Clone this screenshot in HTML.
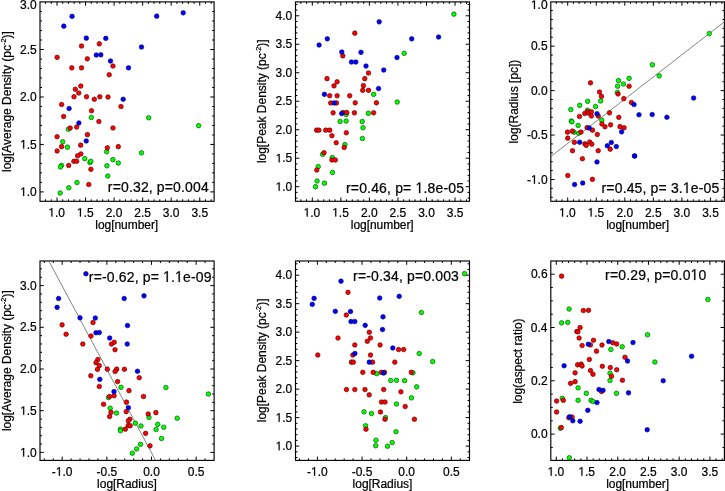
<!DOCTYPE html>
<html><head><meta charset="utf-8"><style>
html,body{margin:0;padding:0;background:#fff;}
svg{display:block;will-change:transform;}
text{font-family:"Liberation Sans", sans-serif;fill:#000;stroke:#000;stroke-width:0.22px;}
.g1{fill:#000;stroke:#000;stroke-width:0.22px;vector-effect:non-scaling-stroke;}
</style></head><body>
<svg width="725" height="491" viewBox="0 0 725 491">
<rect width="725" height="491" fill="#fff"/>
<line x1="45.58" y1="201.30" x2="45.58" y2="199.30" stroke="#000" stroke-width="1.0"/>
<line x1="45.58" y1="1.90" x2="45.58" y2="3.90" stroke="#000" stroke-width="1.0"/>
<line x1="51.29" y1="201.30" x2="51.29" y2="199.30" stroke="#000" stroke-width="1.0"/>
<line x1="51.29" y1="1.90" x2="51.29" y2="3.90" stroke="#000" stroke-width="1.0"/>
<line x1="57.00" y1="201.30" x2="57.00" y2="197.50" stroke="#000" stroke-width="1.0"/>
<line x1="57.00" y1="1.90" x2="57.00" y2="5.70" stroke="#000" stroke-width="1.0"/>
<line x1="62.71" y1="201.30" x2="62.71" y2="199.30" stroke="#000" stroke-width="1.0"/>
<line x1="62.71" y1="1.90" x2="62.71" y2="3.90" stroke="#000" stroke-width="1.0"/>
<line x1="68.42" y1="201.30" x2="68.42" y2="199.30" stroke="#000" stroke-width="1.0"/>
<line x1="68.42" y1="1.90" x2="68.42" y2="3.90" stroke="#000" stroke-width="1.0"/>
<line x1="74.13" y1="201.30" x2="74.13" y2="199.30" stroke="#000" stroke-width="1.0"/>
<line x1="74.13" y1="1.90" x2="74.13" y2="3.90" stroke="#000" stroke-width="1.0"/>
<line x1="79.84" y1="201.30" x2="79.84" y2="199.30" stroke="#000" stroke-width="1.0"/>
<line x1="79.84" y1="1.90" x2="79.84" y2="3.90" stroke="#000" stroke-width="1.0"/>
<line x1="85.55" y1="201.30" x2="85.55" y2="197.50" stroke="#000" stroke-width="1.0"/>
<line x1="85.55" y1="1.90" x2="85.55" y2="5.70" stroke="#000" stroke-width="1.0"/>
<line x1="91.26" y1="201.30" x2="91.26" y2="199.30" stroke="#000" stroke-width="1.0"/>
<line x1="91.26" y1="1.90" x2="91.26" y2="3.90" stroke="#000" stroke-width="1.0"/>
<line x1="96.97" y1="201.30" x2="96.97" y2="199.30" stroke="#000" stroke-width="1.0"/>
<line x1="96.97" y1="1.90" x2="96.97" y2="3.90" stroke="#000" stroke-width="1.0"/>
<line x1="102.68" y1="201.30" x2="102.68" y2="199.30" stroke="#000" stroke-width="1.0"/>
<line x1="102.68" y1="1.90" x2="102.68" y2="3.90" stroke="#000" stroke-width="1.0"/>
<line x1="108.39" y1="201.30" x2="108.39" y2="199.30" stroke="#000" stroke-width="1.0"/>
<line x1="108.39" y1="1.90" x2="108.39" y2="3.90" stroke="#000" stroke-width="1.0"/>
<line x1="114.10" y1="201.30" x2="114.10" y2="197.50" stroke="#000" stroke-width="1.0"/>
<line x1="114.10" y1="1.90" x2="114.10" y2="5.70" stroke="#000" stroke-width="1.0"/>
<line x1="119.81" y1="201.30" x2="119.81" y2="199.30" stroke="#000" stroke-width="1.0"/>
<line x1="119.81" y1="1.90" x2="119.81" y2="3.90" stroke="#000" stroke-width="1.0"/>
<line x1="125.52" y1="201.30" x2="125.52" y2="199.30" stroke="#000" stroke-width="1.0"/>
<line x1="125.52" y1="1.90" x2="125.52" y2="3.90" stroke="#000" stroke-width="1.0"/>
<line x1="131.23" y1="201.30" x2="131.23" y2="199.30" stroke="#000" stroke-width="1.0"/>
<line x1="131.23" y1="1.90" x2="131.23" y2="3.90" stroke="#000" stroke-width="1.0"/>
<line x1="136.94" y1="201.30" x2="136.94" y2="199.30" stroke="#000" stroke-width="1.0"/>
<line x1="136.94" y1="1.90" x2="136.94" y2="3.90" stroke="#000" stroke-width="1.0"/>
<line x1="142.65" y1="201.30" x2="142.65" y2="197.50" stroke="#000" stroke-width="1.0"/>
<line x1="142.65" y1="1.90" x2="142.65" y2="5.70" stroke="#000" stroke-width="1.0"/>
<line x1="148.36" y1="201.30" x2="148.36" y2="199.30" stroke="#000" stroke-width="1.0"/>
<line x1="148.36" y1="1.90" x2="148.36" y2="3.90" stroke="#000" stroke-width="1.0"/>
<line x1="154.07" y1="201.30" x2="154.07" y2="199.30" stroke="#000" stroke-width="1.0"/>
<line x1="154.07" y1="1.90" x2="154.07" y2="3.90" stroke="#000" stroke-width="1.0"/>
<line x1="159.78" y1="201.30" x2="159.78" y2="199.30" stroke="#000" stroke-width="1.0"/>
<line x1="159.78" y1="1.90" x2="159.78" y2="3.90" stroke="#000" stroke-width="1.0"/>
<line x1="165.49" y1="201.30" x2="165.49" y2="199.30" stroke="#000" stroke-width="1.0"/>
<line x1="165.49" y1="1.90" x2="165.49" y2="3.90" stroke="#000" stroke-width="1.0"/>
<line x1="171.20" y1="201.30" x2="171.20" y2="197.50" stroke="#000" stroke-width="1.0"/>
<line x1="171.20" y1="1.90" x2="171.20" y2="5.70" stroke="#000" stroke-width="1.0"/>
<line x1="176.91" y1="201.30" x2="176.91" y2="199.30" stroke="#000" stroke-width="1.0"/>
<line x1="176.91" y1="1.90" x2="176.91" y2="3.90" stroke="#000" stroke-width="1.0"/>
<line x1="182.62" y1="201.30" x2="182.62" y2="199.30" stroke="#000" stroke-width="1.0"/>
<line x1="182.62" y1="1.90" x2="182.62" y2="3.90" stroke="#000" stroke-width="1.0"/>
<line x1="188.33" y1="201.30" x2="188.33" y2="199.30" stroke="#000" stroke-width="1.0"/>
<line x1="188.33" y1="1.90" x2="188.33" y2="3.90" stroke="#000" stroke-width="1.0"/>
<line x1="194.04" y1="201.30" x2="194.04" y2="199.30" stroke="#000" stroke-width="1.0"/>
<line x1="194.04" y1="1.90" x2="194.04" y2="3.90" stroke="#000" stroke-width="1.0"/>
<line x1="199.75" y1="201.30" x2="199.75" y2="197.50" stroke="#000" stroke-width="1.0"/>
<line x1="199.75" y1="1.90" x2="199.75" y2="5.70" stroke="#000" stroke-width="1.0"/>
<line x1="205.46" y1="201.30" x2="205.46" y2="199.30" stroke="#000" stroke-width="1.0"/>
<line x1="205.46" y1="1.90" x2="205.46" y2="3.90" stroke="#000" stroke-width="1.0"/>
<line x1="211.17" y1="201.30" x2="211.17" y2="199.30" stroke="#000" stroke-width="1.0"/>
<line x1="211.17" y1="1.90" x2="211.17" y2="3.90" stroke="#000" stroke-width="1.0"/>
<line x1="40.00" y1="191.90" x2="43.80" y2="191.90" stroke="#000" stroke-width="1.0"/>
<line x1="214.10" y1="191.90" x2="210.30" y2="191.90" stroke="#000" stroke-width="1.0"/>
<line x1="40.00" y1="182.41" x2="42.00" y2="182.41" stroke="#000" stroke-width="1.0"/>
<line x1="214.10" y1="182.41" x2="212.10" y2="182.41" stroke="#000" stroke-width="1.0"/>
<line x1="40.00" y1="172.91" x2="42.00" y2="172.91" stroke="#000" stroke-width="1.0"/>
<line x1="214.10" y1="172.91" x2="212.10" y2="172.91" stroke="#000" stroke-width="1.0"/>
<line x1="40.00" y1="163.42" x2="42.00" y2="163.42" stroke="#000" stroke-width="1.0"/>
<line x1="214.10" y1="163.42" x2="212.10" y2="163.42" stroke="#000" stroke-width="1.0"/>
<line x1="40.00" y1="153.93" x2="42.00" y2="153.93" stroke="#000" stroke-width="1.0"/>
<line x1="214.10" y1="153.93" x2="212.10" y2="153.93" stroke="#000" stroke-width="1.0"/>
<line x1="40.00" y1="144.44" x2="43.80" y2="144.44" stroke="#000" stroke-width="1.0"/>
<line x1="214.10" y1="144.44" x2="210.30" y2="144.44" stroke="#000" stroke-width="1.0"/>
<line x1="40.00" y1="134.94" x2="42.00" y2="134.94" stroke="#000" stroke-width="1.0"/>
<line x1="214.10" y1="134.94" x2="212.10" y2="134.94" stroke="#000" stroke-width="1.0"/>
<line x1="40.00" y1="125.45" x2="42.00" y2="125.45" stroke="#000" stroke-width="1.0"/>
<line x1="214.10" y1="125.45" x2="212.10" y2="125.45" stroke="#000" stroke-width="1.0"/>
<line x1="40.00" y1="115.96" x2="42.00" y2="115.96" stroke="#000" stroke-width="1.0"/>
<line x1="214.10" y1="115.96" x2="212.10" y2="115.96" stroke="#000" stroke-width="1.0"/>
<line x1="40.00" y1="106.46" x2="42.00" y2="106.46" stroke="#000" stroke-width="1.0"/>
<line x1="214.10" y1="106.46" x2="212.10" y2="106.46" stroke="#000" stroke-width="1.0"/>
<line x1="40.00" y1="96.97" x2="43.80" y2="96.97" stroke="#000" stroke-width="1.0"/>
<line x1="214.10" y1="96.97" x2="210.30" y2="96.97" stroke="#000" stroke-width="1.0"/>
<line x1="40.00" y1="87.48" x2="42.00" y2="87.48" stroke="#000" stroke-width="1.0"/>
<line x1="214.10" y1="87.48" x2="212.10" y2="87.48" stroke="#000" stroke-width="1.0"/>
<line x1="40.00" y1="77.98" x2="42.00" y2="77.98" stroke="#000" stroke-width="1.0"/>
<line x1="214.10" y1="77.98" x2="212.10" y2="77.98" stroke="#000" stroke-width="1.0"/>
<line x1="40.00" y1="68.49" x2="42.00" y2="68.49" stroke="#000" stroke-width="1.0"/>
<line x1="214.10" y1="68.49" x2="212.10" y2="68.49" stroke="#000" stroke-width="1.0"/>
<line x1="40.00" y1="59.00" x2="42.00" y2="59.00" stroke="#000" stroke-width="1.0"/>
<line x1="214.10" y1="59.00" x2="212.10" y2="59.00" stroke="#000" stroke-width="1.0"/>
<line x1="40.00" y1="49.50" x2="43.80" y2="49.50" stroke="#000" stroke-width="1.0"/>
<line x1="214.10" y1="49.50" x2="210.30" y2="49.50" stroke="#000" stroke-width="1.0"/>
<line x1="40.00" y1="40.01" x2="42.00" y2="40.01" stroke="#000" stroke-width="1.0"/>
<line x1="214.10" y1="40.01" x2="212.10" y2="40.01" stroke="#000" stroke-width="1.0"/>
<line x1="40.00" y1="30.52" x2="42.00" y2="30.52" stroke="#000" stroke-width="1.0"/>
<line x1="214.10" y1="30.52" x2="212.10" y2="30.52" stroke="#000" stroke-width="1.0"/>
<line x1="40.00" y1="21.03" x2="42.00" y2="21.03" stroke="#000" stroke-width="1.0"/>
<line x1="214.10" y1="21.03" x2="212.10" y2="21.03" stroke="#000" stroke-width="1.0"/>
<line x1="40.00" y1="11.53" x2="42.00" y2="11.53" stroke="#000" stroke-width="1.0"/>
<line x1="214.10" y1="11.53" x2="212.10" y2="11.53" stroke="#000" stroke-width="1.0"/>
<rect x="40.00" y="1.90" width="174.10" height="199.40" fill="none" stroke="#000" stroke-width="1.15"/>
<line x1="300.88" y1="201.30" x2="300.88" y2="199.30" stroke="#000" stroke-width="1.0"/>
<line x1="300.88" y1="1.90" x2="300.88" y2="3.90" stroke="#000" stroke-width="1.0"/>
<line x1="306.59" y1="201.30" x2="306.59" y2="199.30" stroke="#000" stroke-width="1.0"/>
<line x1="306.59" y1="1.90" x2="306.59" y2="3.90" stroke="#000" stroke-width="1.0"/>
<line x1="312.30" y1="201.30" x2="312.30" y2="197.50" stroke="#000" stroke-width="1.0"/>
<line x1="312.30" y1="1.90" x2="312.30" y2="5.70" stroke="#000" stroke-width="1.0"/>
<line x1="318.01" y1="201.30" x2="318.01" y2="199.30" stroke="#000" stroke-width="1.0"/>
<line x1="318.01" y1="1.90" x2="318.01" y2="3.90" stroke="#000" stroke-width="1.0"/>
<line x1="323.72" y1="201.30" x2="323.72" y2="199.30" stroke="#000" stroke-width="1.0"/>
<line x1="323.72" y1="1.90" x2="323.72" y2="3.90" stroke="#000" stroke-width="1.0"/>
<line x1="329.43" y1="201.30" x2="329.43" y2="199.30" stroke="#000" stroke-width="1.0"/>
<line x1="329.43" y1="1.90" x2="329.43" y2="3.90" stroke="#000" stroke-width="1.0"/>
<line x1="335.14" y1="201.30" x2="335.14" y2="199.30" stroke="#000" stroke-width="1.0"/>
<line x1="335.14" y1="1.90" x2="335.14" y2="3.90" stroke="#000" stroke-width="1.0"/>
<line x1="340.85" y1="201.30" x2="340.85" y2="197.50" stroke="#000" stroke-width="1.0"/>
<line x1="340.85" y1="1.90" x2="340.85" y2="5.70" stroke="#000" stroke-width="1.0"/>
<line x1="346.56" y1="201.30" x2="346.56" y2="199.30" stroke="#000" stroke-width="1.0"/>
<line x1="346.56" y1="1.90" x2="346.56" y2="3.90" stroke="#000" stroke-width="1.0"/>
<line x1="352.27" y1="201.30" x2="352.27" y2="199.30" stroke="#000" stroke-width="1.0"/>
<line x1="352.27" y1="1.90" x2="352.27" y2="3.90" stroke="#000" stroke-width="1.0"/>
<line x1="357.98" y1="201.30" x2="357.98" y2="199.30" stroke="#000" stroke-width="1.0"/>
<line x1="357.98" y1="1.90" x2="357.98" y2="3.90" stroke="#000" stroke-width="1.0"/>
<line x1="363.69" y1="201.30" x2="363.69" y2="199.30" stroke="#000" stroke-width="1.0"/>
<line x1="363.69" y1="1.90" x2="363.69" y2="3.90" stroke="#000" stroke-width="1.0"/>
<line x1="369.40" y1="201.30" x2="369.40" y2="197.50" stroke="#000" stroke-width="1.0"/>
<line x1="369.40" y1="1.90" x2="369.40" y2="5.70" stroke="#000" stroke-width="1.0"/>
<line x1="375.11" y1="201.30" x2="375.11" y2="199.30" stroke="#000" stroke-width="1.0"/>
<line x1="375.11" y1="1.90" x2="375.11" y2="3.90" stroke="#000" stroke-width="1.0"/>
<line x1="380.82" y1="201.30" x2="380.82" y2="199.30" stroke="#000" stroke-width="1.0"/>
<line x1="380.82" y1="1.90" x2="380.82" y2="3.90" stroke="#000" stroke-width="1.0"/>
<line x1="386.53" y1="201.30" x2="386.53" y2="199.30" stroke="#000" stroke-width="1.0"/>
<line x1="386.53" y1="1.90" x2="386.53" y2="3.90" stroke="#000" stroke-width="1.0"/>
<line x1="392.24" y1="201.30" x2="392.24" y2="199.30" stroke="#000" stroke-width="1.0"/>
<line x1="392.24" y1="1.90" x2="392.24" y2="3.90" stroke="#000" stroke-width="1.0"/>
<line x1="397.95" y1="201.30" x2="397.95" y2="197.50" stroke="#000" stroke-width="1.0"/>
<line x1="397.95" y1="1.90" x2="397.95" y2="5.70" stroke="#000" stroke-width="1.0"/>
<line x1="403.66" y1="201.30" x2="403.66" y2="199.30" stroke="#000" stroke-width="1.0"/>
<line x1="403.66" y1="1.90" x2="403.66" y2="3.90" stroke="#000" stroke-width="1.0"/>
<line x1="409.37" y1="201.30" x2="409.37" y2="199.30" stroke="#000" stroke-width="1.0"/>
<line x1="409.37" y1="1.90" x2="409.37" y2="3.90" stroke="#000" stroke-width="1.0"/>
<line x1="415.08" y1="201.30" x2="415.08" y2="199.30" stroke="#000" stroke-width="1.0"/>
<line x1="415.08" y1="1.90" x2="415.08" y2="3.90" stroke="#000" stroke-width="1.0"/>
<line x1="420.79" y1="201.30" x2="420.79" y2="199.30" stroke="#000" stroke-width="1.0"/>
<line x1="420.79" y1="1.90" x2="420.79" y2="3.90" stroke="#000" stroke-width="1.0"/>
<line x1="426.50" y1="201.30" x2="426.50" y2="197.50" stroke="#000" stroke-width="1.0"/>
<line x1="426.50" y1="1.90" x2="426.50" y2="5.70" stroke="#000" stroke-width="1.0"/>
<line x1="432.21" y1="201.30" x2="432.21" y2="199.30" stroke="#000" stroke-width="1.0"/>
<line x1="432.21" y1="1.90" x2="432.21" y2="3.90" stroke="#000" stroke-width="1.0"/>
<line x1="437.92" y1="201.30" x2="437.92" y2="199.30" stroke="#000" stroke-width="1.0"/>
<line x1="437.92" y1="1.90" x2="437.92" y2="3.90" stroke="#000" stroke-width="1.0"/>
<line x1="443.63" y1="201.30" x2="443.63" y2="199.30" stroke="#000" stroke-width="1.0"/>
<line x1="443.63" y1="1.90" x2="443.63" y2="3.90" stroke="#000" stroke-width="1.0"/>
<line x1="449.34" y1="201.30" x2="449.34" y2="199.30" stroke="#000" stroke-width="1.0"/>
<line x1="449.34" y1="1.90" x2="449.34" y2="3.90" stroke="#000" stroke-width="1.0"/>
<line x1="455.05" y1="201.30" x2="455.05" y2="197.50" stroke="#000" stroke-width="1.0"/>
<line x1="455.05" y1="1.90" x2="455.05" y2="5.70" stroke="#000" stroke-width="1.0"/>
<line x1="460.76" y1="201.30" x2="460.76" y2="199.30" stroke="#000" stroke-width="1.0"/>
<line x1="460.76" y1="1.90" x2="460.76" y2="3.90" stroke="#000" stroke-width="1.0"/>
<line x1="466.47" y1="201.30" x2="466.47" y2="199.30" stroke="#000" stroke-width="1.0"/>
<line x1="466.47" y1="1.90" x2="466.47" y2="3.90" stroke="#000" stroke-width="1.0"/>
<line x1="295.50" y1="198.09" x2="297.50" y2="198.09" stroke="#000" stroke-width="1.0"/>
<line x1="469.50" y1="198.09" x2="467.50" y2="198.09" stroke="#000" stroke-width="1.0"/>
<line x1="295.50" y1="192.40" x2="297.50" y2="192.40" stroke="#000" stroke-width="1.0"/>
<line x1="469.50" y1="192.40" x2="467.50" y2="192.40" stroke="#000" stroke-width="1.0"/>
<line x1="295.50" y1="186.70" x2="299.30" y2="186.70" stroke="#000" stroke-width="1.0"/>
<line x1="469.50" y1="186.70" x2="465.70" y2="186.70" stroke="#000" stroke-width="1.0"/>
<line x1="295.50" y1="181.00" x2="297.50" y2="181.00" stroke="#000" stroke-width="1.0"/>
<line x1="469.50" y1="181.00" x2="467.50" y2="181.00" stroke="#000" stroke-width="1.0"/>
<line x1="295.50" y1="175.31" x2="297.50" y2="175.31" stroke="#000" stroke-width="1.0"/>
<line x1="469.50" y1="175.31" x2="467.50" y2="175.31" stroke="#000" stroke-width="1.0"/>
<line x1="295.50" y1="169.61" x2="297.50" y2="169.61" stroke="#000" stroke-width="1.0"/>
<line x1="469.50" y1="169.61" x2="467.50" y2="169.61" stroke="#000" stroke-width="1.0"/>
<line x1="295.50" y1="163.91" x2="297.50" y2="163.91" stroke="#000" stroke-width="1.0"/>
<line x1="469.50" y1="163.91" x2="467.50" y2="163.91" stroke="#000" stroke-width="1.0"/>
<line x1="295.50" y1="158.21" x2="299.30" y2="158.21" stroke="#000" stroke-width="1.0"/>
<line x1="469.50" y1="158.21" x2="465.70" y2="158.21" stroke="#000" stroke-width="1.0"/>
<line x1="295.50" y1="152.52" x2="297.50" y2="152.52" stroke="#000" stroke-width="1.0"/>
<line x1="469.50" y1="152.52" x2="467.50" y2="152.52" stroke="#000" stroke-width="1.0"/>
<line x1="295.50" y1="146.82" x2="297.50" y2="146.82" stroke="#000" stroke-width="1.0"/>
<line x1="469.50" y1="146.82" x2="467.50" y2="146.82" stroke="#000" stroke-width="1.0"/>
<line x1="295.50" y1="141.12" x2="297.50" y2="141.12" stroke="#000" stroke-width="1.0"/>
<line x1="469.50" y1="141.12" x2="467.50" y2="141.12" stroke="#000" stroke-width="1.0"/>
<line x1="295.50" y1="135.43" x2="297.50" y2="135.43" stroke="#000" stroke-width="1.0"/>
<line x1="469.50" y1="135.43" x2="467.50" y2="135.43" stroke="#000" stroke-width="1.0"/>
<line x1="295.50" y1="129.73" x2="299.30" y2="129.73" stroke="#000" stroke-width="1.0"/>
<line x1="469.50" y1="129.73" x2="465.70" y2="129.73" stroke="#000" stroke-width="1.0"/>
<line x1="295.50" y1="124.03" x2="297.50" y2="124.03" stroke="#000" stroke-width="1.0"/>
<line x1="469.50" y1="124.03" x2="467.50" y2="124.03" stroke="#000" stroke-width="1.0"/>
<line x1="295.50" y1="118.34" x2="297.50" y2="118.34" stroke="#000" stroke-width="1.0"/>
<line x1="469.50" y1="118.34" x2="467.50" y2="118.34" stroke="#000" stroke-width="1.0"/>
<line x1="295.50" y1="112.64" x2="297.50" y2="112.64" stroke="#000" stroke-width="1.0"/>
<line x1="469.50" y1="112.64" x2="467.50" y2="112.64" stroke="#000" stroke-width="1.0"/>
<line x1="295.50" y1="106.94" x2="297.50" y2="106.94" stroke="#000" stroke-width="1.0"/>
<line x1="469.50" y1="106.94" x2="467.50" y2="106.94" stroke="#000" stroke-width="1.0"/>
<line x1="295.50" y1="101.24" x2="299.30" y2="101.24" stroke="#000" stroke-width="1.0"/>
<line x1="469.50" y1="101.24" x2="465.70" y2="101.24" stroke="#000" stroke-width="1.0"/>
<line x1="295.50" y1="95.55" x2="297.50" y2="95.55" stroke="#000" stroke-width="1.0"/>
<line x1="469.50" y1="95.55" x2="467.50" y2="95.55" stroke="#000" stroke-width="1.0"/>
<line x1="295.50" y1="89.85" x2="297.50" y2="89.85" stroke="#000" stroke-width="1.0"/>
<line x1="469.50" y1="89.85" x2="467.50" y2="89.85" stroke="#000" stroke-width="1.0"/>
<line x1="295.50" y1="84.15" x2="297.50" y2="84.15" stroke="#000" stroke-width="1.0"/>
<line x1="469.50" y1="84.15" x2="467.50" y2="84.15" stroke="#000" stroke-width="1.0"/>
<line x1="295.50" y1="78.46" x2="297.50" y2="78.46" stroke="#000" stroke-width="1.0"/>
<line x1="469.50" y1="78.46" x2="467.50" y2="78.46" stroke="#000" stroke-width="1.0"/>
<line x1="295.50" y1="72.76" x2="299.30" y2="72.76" stroke="#000" stroke-width="1.0"/>
<line x1="469.50" y1="72.76" x2="465.70" y2="72.76" stroke="#000" stroke-width="1.0"/>
<line x1="295.50" y1="67.06" x2="297.50" y2="67.06" stroke="#000" stroke-width="1.0"/>
<line x1="469.50" y1="67.06" x2="467.50" y2="67.06" stroke="#000" stroke-width="1.0"/>
<line x1="295.50" y1="61.37" x2="297.50" y2="61.37" stroke="#000" stroke-width="1.0"/>
<line x1="469.50" y1="61.37" x2="467.50" y2="61.37" stroke="#000" stroke-width="1.0"/>
<line x1="295.50" y1="55.67" x2="297.50" y2="55.67" stroke="#000" stroke-width="1.0"/>
<line x1="469.50" y1="55.67" x2="467.50" y2="55.67" stroke="#000" stroke-width="1.0"/>
<line x1="295.50" y1="49.97" x2="297.50" y2="49.97" stroke="#000" stroke-width="1.0"/>
<line x1="469.50" y1="49.97" x2="467.50" y2="49.97" stroke="#000" stroke-width="1.0"/>
<line x1="295.50" y1="44.27" x2="299.30" y2="44.27" stroke="#000" stroke-width="1.0"/>
<line x1="469.50" y1="44.27" x2="465.70" y2="44.27" stroke="#000" stroke-width="1.0"/>
<line x1="295.50" y1="38.58" x2="297.50" y2="38.58" stroke="#000" stroke-width="1.0"/>
<line x1="469.50" y1="38.58" x2="467.50" y2="38.58" stroke="#000" stroke-width="1.0"/>
<line x1="295.50" y1="32.88" x2="297.50" y2="32.88" stroke="#000" stroke-width="1.0"/>
<line x1="469.50" y1="32.88" x2="467.50" y2="32.88" stroke="#000" stroke-width="1.0"/>
<line x1="295.50" y1="27.18" x2="297.50" y2="27.18" stroke="#000" stroke-width="1.0"/>
<line x1="469.50" y1="27.18" x2="467.50" y2="27.18" stroke="#000" stroke-width="1.0"/>
<line x1="295.50" y1="21.49" x2="297.50" y2="21.49" stroke="#000" stroke-width="1.0"/>
<line x1="469.50" y1="21.49" x2="467.50" y2="21.49" stroke="#000" stroke-width="1.0"/>
<line x1="295.50" y1="15.79" x2="299.30" y2="15.79" stroke="#000" stroke-width="1.0"/>
<line x1="469.50" y1="15.79" x2="465.70" y2="15.79" stroke="#000" stroke-width="1.0"/>
<line x1="295.50" y1="10.09" x2="297.50" y2="10.09" stroke="#000" stroke-width="1.0"/>
<line x1="469.50" y1="10.09" x2="467.50" y2="10.09" stroke="#000" stroke-width="1.0"/>
<line x1="295.50" y1="4.40" x2="297.50" y2="4.40" stroke="#000" stroke-width="1.0"/>
<line x1="469.50" y1="4.40" x2="467.50" y2="4.40" stroke="#000" stroke-width="1.0"/>
<rect x="295.50" y="1.90" width="174.00" height="199.40" fill="none" stroke="#000" stroke-width="1.15"/>
<line x1="556.28" y1="201.30" x2="556.28" y2="199.30" stroke="#000" stroke-width="1.0"/>
<line x1="556.28" y1="1.90" x2="556.28" y2="3.90" stroke="#000" stroke-width="1.0"/>
<line x1="561.99" y1="201.30" x2="561.99" y2="199.30" stroke="#000" stroke-width="1.0"/>
<line x1="561.99" y1="1.90" x2="561.99" y2="3.90" stroke="#000" stroke-width="1.0"/>
<line x1="567.70" y1="201.30" x2="567.70" y2="197.50" stroke="#000" stroke-width="1.0"/>
<line x1="567.70" y1="1.90" x2="567.70" y2="5.70" stroke="#000" stroke-width="1.0"/>
<line x1="573.41" y1="201.30" x2="573.41" y2="199.30" stroke="#000" stroke-width="1.0"/>
<line x1="573.41" y1="1.90" x2="573.41" y2="3.90" stroke="#000" stroke-width="1.0"/>
<line x1="579.12" y1="201.30" x2="579.12" y2="199.30" stroke="#000" stroke-width="1.0"/>
<line x1="579.12" y1="1.90" x2="579.12" y2="3.90" stroke="#000" stroke-width="1.0"/>
<line x1="584.83" y1="201.30" x2="584.83" y2="199.30" stroke="#000" stroke-width="1.0"/>
<line x1="584.83" y1="1.90" x2="584.83" y2="3.90" stroke="#000" stroke-width="1.0"/>
<line x1="590.54" y1="201.30" x2="590.54" y2="199.30" stroke="#000" stroke-width="1.0"/>
<line x1="590.54" y1="1.90" x2="590.54" y2="3.90" stroke="#000" stroke-width="1.0"/>
<line x1="596.25" y1="201.30" x2="596.25" y2="197.50" stroke="#000" stroke-width="1.0"/>
<line x1="596.25" y1="1.90" x2="596.25" y2="5.70" stroke="#000" stroke-width="1.0"/>
<line x1="601.96" y1="201.30" x2="601.96" y2="199.30" stroke="#000" stroke-width="1.0"/>
<line x1="601.96" y1="1.90" x2="601.96" y2="3.90" stroke="#000" stroke-width="1.0"/>
<line x1="607.67" y1="201.30" x2="607.67" y2="199.30" stroke="#000" stroke-width="1.0"/>
<line x1="607.67" y1="1.90" x2="607.67" y2="3.90" stroke="#000" stroke-width="1.0"/>
<line x1="613.38" y1="201.30" x2="613.38" y2="199.30" stroke="#000" stroke-width="1.0"/>
<line x1="613.38" y1="1.90" x2="613.38" y2="3.90" stroke="#000" stroke-width="1.0"/>
<line x1="619.09" y1="201.30" x2="619.09" y2="199.30" stroke="#000" stroke-width="1.0"/>
<line x1="619.09" y1="1.90" x2="619.09" y2="3.90" stroke="#000" stroke-width="1.0"/>
<line x1="624.80" y1="201.30" x2="624.80" y2="197.50" stroke="#000" stroke-width="1.0"/>
<line x1="624.80" y1="1.90" x2="624.80" y2="5.70" stroke="#000" stroke-width="1.0"/>
<line x1="630.51" y1="201.30" x2="630.51" y2="199.30" stroke="#000" stroke-width="1.0"/>
<line x1="630.51" y1="1.90" x2="630.51" y2="3.90" stroke="#000" stroke-width="1.0"/>
<line x1="636.22" y1="201.30" x2="636.22" y2="199.30" stroke="#000" stroke-width="1.0"/>
<line x1="636.22" y1="1.90" x2="636.22" y2="3.90" stroke="#000" stroke-width="1.0"/>
<line x1="641.93" y1="201.30" x2="641.93" y2="199.30" stroke="#000" stroke-width="1.0"/>
<line x1="641.93" y1="1.90" x2="641.93" y2="3.90" stroke="#000" stroke-width="1.0"/>
<line x1="647.64" y1="201.30" x2="647.64" y2="199.30" stroke="#000" stroke-width="1.0"/>
<line x1="647.64" y1="1.90" x2="647.64" y2="3.90" stroke="#000" stroke-width="1.0"/>
<line x1="653.35" y1="201.30" x2="653.35" y2="197.50" stroke="#000" stroke-width="1.0"/>
<line x1="653.35" y1="1.90" x2="653.35" y2="5.70" stroke="#000" stroke-width="1.0"/>
<line x1="659.06" y1="201.30" x2="659.06" y2="199.30" stroke="#000" stroke-width="1.0"/>
<line x1="659.06" y1="1.90" x2="659.06" y2="3.90" stroke="#000" stroke-width="1.0"/>
<line x1="664.77" y1="201.30" x2="664.77" y2="199.30" stroke="#000" stroke-width="1.0"/>
<line x1="664.77" y1="1.90" x2="664.77" y2="3.90" stroke="#000" stroke-width="1.0"/>
<line x1="670.48" y1="201.30" x2="670.48" y2="199.30" stroke="#000" stroke-width="1.0"/>
<line x1="670.48" y1="1.90" x2="670.48" y2="3.90" stroke="#000" stroke-width="1.0"/>
<line x1="676.19" y1="201.30" x2="676.19" y2="199.30" stroke="#000" stroke-width="1.0"/>
<line x1="676.19" y1="1.90" x2="676.19" y2="3.90" stroke="#000" stroke-width="1.0"/>
<line x1="681.90" y1="201.30" x2="681.90" y2="197.50" stroke="#000" stroke-width="1.0"/>
<line x1="681.90" y1="1.90" x2="681.90" y2="5.70" stroke="#000" stroke-width="1.0"/>
<line x1="687.61" y1="201.30" x2="687.61" y2="199.30" stroke="#000" stroke-width="1.0"/>
<line x1="687.61" y1="1.90" x2="687.61" y2="3.90" stroke="#000" stroke-width="1.0"/>
<line x1="693.32" y1="201.30" x2="693.32" y2="199.30" stroke="#000" stroke-width="1.0"/>
<line x1="693.32" y1="1.90" x2="693.32" y2="3.90" stroke="#000" stroke-width="1.0"/>
<line x1="699.03" y1="201.30" x2="699.03" y2="199.30" stroke="#000" stroke-width="1.0"/>
<line x1="699.03" y1="1.90" x2="699.03" y2="3.90" stroke="#000" stroke-width="1.0"/>
<line x1="704.74" y1="201.30" x2="704.74" y2="199.30" stroke="#000" stroke-width="1.0"/>
<line x1="704.74" y1="1.90" x2="704.74" y2="3.90" stroke="#000" stroke-width="1.0"/>
<line x1="710.45" y1="201.30" x2="710.45" y2="197.50" stroke="#000" stroke-width="1.0"/>
<line x1="710.45" y1="1.90" x2="710.45" y2="5.70" stroke="#000" stroke-width="1.0"/>
<line x1="716.16" y1="201.30" x2="716.16" y2="199.30" stroke="#000" stroke-width="1.0"/>
<line x1="716.16" y1="1.90" x2="716.16" y2="3.90" stroke="#000" stroke-width="1.0"/>
<line x1="721.87" y1="201.30" x2="721.87" y2="199.30" stroke="#000" stroke-width="1.0"/>
<line x1="721.87" y1="1.90" x2="721.87" y2="3.90" stroke="#000" stroke-width="1.0"/>
<line x1="550.80" y1="197.28" x2="552.80" y2="197.28" stroke="#000" stroke-width="1.0"/>
<line x1="724.40" y1="197.28" x2="722.40" y2="197.28" stroke="#000" stroke-width="1.0"/>
<line x1="550.80" y1="188.39" x2="552.80" y2="188.39" stroke="#000" stroke-width="1.0"/>
<line x1="724.40" y1="188.39" x2="722.40" y2="188.39" stroke="#000" stroke-width="1.0"/>
<line x1="550.80" y1="179.50" x2="554.60" y2="179.50" stroke="#000" stroke-width="1.0"/>
<line x1="724.40" y1="179.50" x2="720.60" y2="179.50" stroke="#000" stroke-width="1.0"/>
<line x1="550.80" y1="170.61" x2="552.80" y2="170.61" stroke="#000" stroke-width="1.0"/>
<line x1="724.40" y1="170.61" x2="722.40" y2="170.61" stroke="#000" stroke-width="1.0"/>
<line x1="550.80" y1="161.72" x2="552.80" y2="161.72" stroke="#000" stroke-width="1.0"/>
<line x1="724.40" y1="161.72" x2="722.40" y2="161.72" stroke="#000" stroke-width="1.0"/>
<line x1="550.80" y1="152.83" x2="552.80" y2="152.83" stroke="#000" stroke-width="1.0"/>
<line x1="724.40" y1="152.83" x2="722.40" y2="152.83" stroke="#000" stroke-width="1.0"/>
<line x1="550.80" y1="143.94" x2="552.80" y2="143.94" stroke="#000" stroke-width="1.0"/>
<line x1="724.40" y1="143.94" x2="722.40" y2="143.94" stroke="#000" stroke-width="1.0"/>
<line x1="550.80" y1="135.05" x2="554.60" y2="135.05" stroke="#000" stroke-width="1.0"/>
<line x1="724.40" y1="135.05" x2="720.60" y2="135.05" stroke="#000" stroke-width="1.0"/>
<line x1="550.80" y1="126.16" x2="552.80" y2="126.16" stroke="#000" stroke-width="1.0"/>
<line x1="724.40" y1="126.16" x2="722.40" y2="126.16" stroke="#000" stroke-width="1.0"/>
<line x1="550.80" y1="117.27" x2="552.80" y2="117.27" stroke="#000" stroke-width="1.0"/>
<line x1="724.40" y1="117.27" x2="722.40" y2="117.27" stroke="#000" stroke-width="1.0"/>
<line x1="550.80" y1="108.38" x2="552.80" y2="108.38" stroke="#000" stroke-width="1.0"/>
<line x1="724.40" y1="108.38" x2="722.40" y2="108.38" stroke="#000" stroke-width="1.0"/>
<line x1="550.80" y1="99.49" x2="552.80" y2="99.49" stroke="#000" stroke-width="1.0"/>
<line x1="724.40" y1="99.49" x2="722.40" y2="99.49" stroke="#000" stroke-width="1.0"/>
<line x1="550.80" y1="90.60" x2="554.60" y2="90.60" stroke="#000" stroke-width="1.0"/>
<line x1="724.40" y1="90.60" x2="720.60" y2="90.60" stroke="#000" stroke-width="1.0"/>
<line x1="550.80" y1="81.71" x2="552.80" y2="81.71" stroke="#000" stroke-width="1.0"/>
<line x1="724.40" y1="81.71" x2="722.40" y2="81.71" stroke="#000" stroke-width="1.0"/>
<line x1="550.80" y1="72.82" x2="552.80" y2="72.82" stroke="#000" stroke-width="1.0"/>
<line x1="724.40" y1="72.82" x2="722.40" y2="72.82" stroke="#000" stroke-width="1.0"/>
<line x1="550.80" y1="63.93" x2="552.80" y2="63.93" stroke="#000" stroke-width="1.0"/>
<line x1="724.40" y1="63.93" x2="722.40" y2="63.93" stroke="#000" stroke-width="1.0"/>
<line x1="550.80" y1="55.04" x2="552.80" y2="55.04" stroke="#000" stroke-width="1.0"/>
<line x1="724.40" y1="55.04" x2="722.40" y2="55.04" stroke="#000" stroke-width="1.0"/>
<line x1="550.80" y1="46.15" x2="554.60" y2="46.15" stroke="#000" stroke-width="1.0"/>
<line x1="724.40" y1="46.15" x2="720.60" y2="46.15" stroke="#000" stroke-width="1.0"/>
<line x1="550.80" y1="37.26" x2="552.80" y2="37.26" stroke="#000" stroke-width="1.0"/>
<line x1="724.40" y1="37.26" x2="722.40" y2="37.26" stroke="#000" stroke-width="1.0"/>
<line x1="550.80" y1="28.37" x2="552.80" y2="28.37" stroke="#000" stroke-width="1.0"/>
<line x1="724.40" y1="28.37" x2="722.40" y2="28.37" stroke="#000" stroke-width="1.0"/>
<line x1="550.80" y1="19.48" x2="552.80" y2="19.48" stroke="#000" stroke-width="1.0"/>
<line x1="724.40" y1="19.48" x2="722.40" y2="19.48" stroke="#000" stroke-width="1.0"/>
<line x1="550.80" y1="10.59" x2="552.80" y2="10.59" stroke="#000" stroke-width="1.0"/>
<line x1="724.40" y1="10.59" x2="722.40" y2="10.59" stroke="#000" stroke-width="1.0"/>
<rect x="550.80" y="1.90" width="173.60" height="199.40" fill="none" stroke="#000" stroke-width="1.15"/>
<line x1="44.34" y1="460.40" x2="44.34" y2="458.40" stroke="#000" stroke-width="1.0"/>
<line x1="44.34" y1="261.00" x2="44.34" y2="263.00" stroke="#000" stroke-width="1.0"/>
<line x1="53.27" y1="460.40" x2="53.27" y2="458.40" stroke="#000" stroke-width="1.0"/>
<line x1="53.27" y1="261.00" x2="53.27" y2="263.00" stroke="#000" stroke-width="1.0"/>
<line x1="62.20" y1="460.40" x2="62.20" y2="456.60" stroke="#000" stroke-width="1.0"/>
<line x1="62.20" y1="261.00" x2="62.20" y2="264.80" stroke="#000" stroke-width="1.0"/>
<line x1="71.13" y1="460.40" x2="71.13" y2="458.40" stroke="#000" stroke-width="1.0"/>
<line x1="71.13" y1="261.00" x2="71.13" y2="263.00" stroke="#000" stroke-width="1.0"/>
<line x1="80.06" y1="460.40" x2="80.06" y2="458.40" stroke="#000" stroke-width="1.0"/>
<line x1="80.06" y1="261.00" x2="80.06" y2="263.00" stroke="#000" stroke-width="1.0"/>
<line x1="88.99" y1="460.40" x2="88.99" y2="458.40" stroke="#000" stroke-width="1.0"/>
<line x1="88.99" y1="261.00" x2="88.99" y2="263.00" stroke="#000" stroke-width="1.0"/>
<line x1="97.92" y1="460.40" x2="97.92" y2="458.40" stroke="#000" stroke-width="1.0"/>
<line x1="97.92" y1="261.00" x2="97.92" y2="263.00" stroke="#000" stroke-width="1.0"/>
<line x1="106.85" y1="460.40" x2="106.85" y2="456.60" stroke="#000" stroke-width="1.0"/>
<line x1="106.85" y1="261.00" x2="106.85" y2="264.80" stroke="#000" stroke-width="1.0"/>
<line x1="115.78" y1="460.40" x2="115.78" y2="458.40" stroke="#000" stroke-width="1.0"/>
<line x1="115.78" y1="261.00" x2="115.78" y2="263.00" stroke="#000" stroke-width="1.0"/>
<line x1="124.71" y1="460.40" x2="124.71" y2="458.40" stroke="#000" stroke-width="1.0"/>
<line x1="124.71" y1="261.00" x2="124.71" y2="263.00" stroke="#000" stroke-width="1.0"/>
<line x1="133.64" y1="460.40" x2="133.64" y2="458.40" stroke="#000" stroke-width="1.0"/>
<line x1="133.64" y1="261.00" x2="133.64" y2="263.00" stroke="#000" stroke-width="1.0"/>
<line x1="142.57" y1="460.40" x2="142.57" y2="458.40" stroke="#000" stroke-width="1.0"/>
<line x1="142.57" y1="261.00" x2="142.57" y2="263.00" stroke="#000" stroke-width="1.0"/>
<line x1="151.50" y1="460.40" x2="151.50" y2="456.60" stroke="#000" stroke-width="1.0"/>
<line x1="151.50" y1="261.00" x2="151.50" y2="264.80" stroke="#000" stroke-width="1.0"/>
<line x1="160.43" y1="460.40" x2="160.43" y2="458.40" stroke="#000" stroke-width="1.0"/>
<line x1="160.43" y1="261.00" x2="160.43" y2="263.00" stroke="#000" stroke-width="1.0"/>
<line x1="169.36" y1="460.40" x2="169.36" y2="458.40" stroke="#000" stroke-width="1.0"/>
<line x1="169.36" y1="261.00" x2="169.36" y2="263.00" stroke="#000" stroke-width="1.0"/>
<line x1="178.29" y1="460.40" x2="178.29" y2="458.40" stroke="#000" stroke-width="1.0"/>
<line x1="178.29" y1="261.00" x2="178.29" y2="263.00" stroke="#000" stroke-width="1.0"/>
<line x1="187.22" y1="460.40" x2="187.22" y2="458.40" stroke="#000" stroke-width="1.0"/>
<line x1="187.22" y1="261.00" x2="187.22" y2="263.00" stroke="#000" stroke-width="1.0"/>
<line x1="196.15" y1="460.40" x2="196.15" y2="456.60" stroke="#000" stroke-width="1.0"/>
<line x1="196.15" y1="261.00" x2="196.15" y2="264.80" stroke="#000" stroke-width="1.0"/>
<line x1="205.08" y1="460.40" x2="205.08" y2="458.40" stroke="#000" stroke-width="1.0"/>
<line x1="205.08" y1="261.00" x2="205.08" y2="263.00" stroke="#000" stroke-width="1.0"/>
<line x1="40.00" y1="452.40" x2="43.80" y2="452.40" stroke="#000" stroke-width="1.0"/>
<line x1="214.10" y1="452.40" x2="210.30" y2="452.40" stroke="#000" stroke-width="1.0"/>
<line x1="40.00" y1="444.06" x2="42.00" y2="444.06" stroke="#000" stroke-width="1.0"/>
<line x1="214.10" y1="444.06" x2="212.10" y2="444.06" stroke="#000" stroke-width="1.0"/>
<line x1="40.00" y1="435.72" x2="42.00" y2="435.72" stroke="#000" stroke-width="1.0"/>
<line x1="214.10" y1="435.72" x2="212.10" y2="435.72" stroke="#000" stroke-width="1.0"/>
<line x1="40.00" y1="427.38" x2="42.00" y2="427.38" stroke="#000" stroke-width="1.0"/>
<line x1="214.10" y1="427.38" x2="212.10" y2="427.38" stroke="#000" stroke-width="1.0"/>
<line x1="40.00" y1="419.04" x2="42.00" y2="419.04" stroke="#000" stroke-width="1.0"/>
<line x1="214.10" y1="419.04" x2="212.10" y2="419.04" stroke="#000" stroke-width="1.0"/>
<line x1="40.00" y1="410.70" x2="43.80" y2="410.70" stroke="#000" stroke-width="1.0"/>
<line x1="214.10" y1="410.70" x2="210.30" y2="410.70" stroke="#000" stroke-width="1.0"/>
<line x1="40.00" y1="402.36" x2="42.00" y2="402.36" stroke="#000" stroke-width="1.0"/>
<line x1="214.10" y1="402.36" x2="212.10" y2="402.36" stroke="#000" stroke-width="1.0"/>
<line x1="40.00" y1="394.02" x2="42.00" y2="394.02" stroke="#000" stroke-width="1.0"/>
<line x1="214.10" y1="394.02" x2="212.10" y2="394.02" stroke="#000" stroke-width="1.0"/>
<line x1="40.00" y1="385.68" x2="42.00" y2="385.68" stroke="#000" stroke-width="1.0"/>
<line x1="214.10" y1="385.68" x2="212.10" y2="385.68" stroke="#000" stroke-width="1.0"/>
<line x1="40.00" y1="377.34" x2="42.00" y2="377.34" stroke="#000" stroke-width="1.0"/>
<line x1="214.10" y1="377.34" x2="212.10" y2="377.34" stroke="#000" stroke-width="1.0"/>
<line x1="40.00" y1="369.00" x2="43.80" y2="369.00" stroke="#000" stroke-width="1.0"/>
<line x1="214.10" y1="369.00" x2="210.30" y2="369.00" stroke="#000" stroke-width="1.0"/>
<line x1="40.00" y1="360.66" x2="42.00" y2="360.66" stroke="#000" stroke-width="1.0"/>
<line x1="214.10" y1="360.66" x2="212.10" y2="360.66" stroke="#000" stroke-width="1.0"/>
<line x1="40.00" y1="352.32" x2="42.00" y2="352.32" stroke="#000" stroke-width="1.0"/>
<line x1="214.10" y1="352.32" x2="212.10" y2="352.32" stroke="#000" stroke-width="1.0"/>
<line x1="40.00" y1="343.98" x2="42.00" y2="343.98" stroke="#000" stroke-width="1.0"/>
<line x1="214.10" y1="343.98" x2="212.10" y2="343.98" stroke="#000" stroke-width="1.0"/>
<line x1="40.00" y1="335.64" x2="42.00" y2="335.64" stroke="#000" stroke-width="1.0"/>
<line x1="214.10" y1="335.64" x2="212.10" y2="335.64" stroke="#000" stroke-width="1.0"/>
<line x1="40.00" y1="327.30" x2="43.80" y2="327.30" stroke="#000" stroke-width="1.0"/>
<line x1="214.10" y1="327.30" x2="210.30" y2="327.30" stroke="#000" stroke-width="1.0"/>
<line x1="40.00" y1="318.96" x2="42.00" y2="318.96" stroke="#000" stroke-width="1.0"/>
<line x1="214.10" y1="318.96" x2="212.10" y2="318.96" stroke="#000" stroke-width="1.0"/>
<line x1="40.00" y1="310.62" x2="42.00" y2="310.62" stroke="#000" stroke-width="1.0"/>
<line x1="214.10" y1="310.62" x2="212.10" y2="310.62" stroke="#000" stroke-width="1.0"/>
<line x1="40.00" y1="302.28" x2="42.00" y2="302.28" stroke="#000" stroke-width="1.0"/>
<line x1="214.10" y1="302.28" x2="212.10" y2="302.28" stroke="#000" stroke-width="1.0"/>
<line x1="40.00" y1="293.94" x2="42.00" y2="293.94" stroke="#000" stroke-width="1.0"/>
<line x1="214.10" y1="293.94" x2="212.10" y2="293.94" stroke="#000" stroke-width="1.0"/>
<line x1="40.00" y1="285.60" x2="43.80" y2="285.60" stroke="#000" stroke-width="1.0"/>
<line x1="214.10" y1="285.60" x2="210.30" y2="285.60" stroke="#000" stroke-width="1.0"/>
<line x1="40.00" y1="277.26" x2="42.00" y2="277.26" stroke="#000" stroke-width="1.0"/>
<line x1="214.10" y1="277.26" x2="212.10" y2="277.26" stroke="#000" stroke-width="1.0"/>
<line x1="40.00" y1="268.92" x2="42.00" y2="268.92" stroke="#000" stroke-width="1.0"/>
<line x1="214.10" y1="268.92" x2="212.10" y2="268.92" stroke="#000" stroke-width="1.0"/>
<rect x="40.00" y="261.00" width="174.10" height="199.40" fill="none" stroke="#000" stroke-width="1.15"/>
<line x1="299.54" y1="460.40" x2="299.54" y2="458.40" stroke="#000" stroke-width="1.0"/>
<line x1="299.54" y1="261.00" x2="299.54" y2="263.00" stroke="#000" stroke-width="1.0"/>
<line x1="308.47" y1="460.40" x2="308.47" y2="458.40" stroke="#000" stroke-width="1.0"/>
<line x1="308.47" y1="261.00" x2="308.47" y2="263.00" stroke="#000" stroke-width="1.0"/>
<line x1="317.40" y1="460.40" x2="317.40" y2="456.60" stroke="#000" stroke-width="1.0"/>
<line x1="317.40" y1="261.00" x2="317.40" y2="264.80" stroke="#000" stroke-width="1.0"/>
<line x1="326.33" y1="460.40" x2="326.33" y2="458.40" stroke="#000" stroke-width="1.0"/>
<line x1="326.33" y1="261.00" x2="326.33" y2="263.00" stroke="#000" stroke-width="1.0"/>
<line x1="335.26" y1="460.40" x2="335.26" y2="458.40" stroke="#000" stroke-width="1.0"/>
<line x1="335.26" y1="261.00" x2="335.26" y2="263.00" stroke="#000" stroke-width="1.0"/>
<line x1="344.19" y1="460.40" x2="344.19" y2="458.40" stroke="#000" stroke-width="1.0"/>
<line x1="344.19" y1="261.00" x2="344.19" y2="263.00" stroke="#000" stroke-width="1.0"/>
<line x1="353.12" y1="460.40" x2="353.12" y2="458.40" stroke="#000" stroke-width="1.0"/>
<line x1="353.12" y1="261.00" x2="353.12" y2="263.00" stroke="#000" stroke-width="1.0"/>
<line x1="362.05" y1="460.40" x2="362.05" y2="456.60" stroke="#000" stroke-width="1.0"/>
<line x1="362.05" y1="261.00" x2="362.05" y2="264.80" stroke="#000" stroke-width="1.0"/>
<line x1="370.98" y1="460.40" x2="370.98" y2="458.40" stroke="#000" stroke-width="1.0"/>
<line x1="370.98" y1="261.00" x2="370.98" y2="263.00" stroke="#000" stroke-width="1.0"/>
<line x1="379.91" y1="460.40" x2="379.91" y2="458.40" stroke="#000" stroke-width="1.0"/>
<line x1="379.91" y1="261.00" x2="379.91" y2="263.00" stroke="#000" stroke-width="1.0"/>
<line x1="388.84" y1="460.40" x2="388.84" y2="458.40" stroke="#000" stroke-width="1.0"/>
<line x1="388.84" y1="261.00" x2="388.84" y2="263.00" stroke="#000" stroke-width="1.0"/>
<line x1="397.77" y1="460.40" x2="397.77" y2="458.40" stroke="#000" stroke-width="1.0"/>
<line x1="397.77" y1="261.00" x2="397.77" y2="263.00" stroke="#000" stroke-width="1.0"/>
<line x1="406.70" y1="460.40" x2="406.70" y2="456.60" stroke="#000" stroke-width="1.0"/>
<line x1="406.70" y1="261.00" x2="406.70" y2="264.80" stroke="#000" stroke-width="1.0"/>
<line x1="415.63" y1="460.40" x2="415.63" y2="458.40" stroke="#000" stroke-width="1.0"/>
<line x1="415.63" y1="261.00" x2="415.63" y2="263.00" stroke="#000" stroke-width="1.0"/>
<line x1="424.56" y1="460.40" x2="424.56" y2="458.40" stroke="#000" stroke-width="1.0"/>
<line x1="424.56" y1="261.00" x2="424.56" y2="263.00" stroke="#000" stroke-width="1.0"/>
<line x1="433.49" y1="460.40" x2="433.49" y2="458.40" stroke="#000" stroke-width="1.0"/>
<line x1="433.49" y1="261.00" x2="433.49" y2="263.00" stroke="#000" stroke-width="1.0"/>
<line x1="442.42" y1="460.40" x2="442.42" y2="458.40" stroke="#000" stroke-width="1.0"/>
<line x1="442.42" y1="261.00" x2="442.42" y2="263.00" stroke="#000" stroke-width="1.0"/>
<line x1="451.35" y1="460.40" x2="451.35" y2="456.60" stroke="#000" stroke-width="1.0"/>
<line x1="451.35" y1="261.00" x2="451.35" y2="264.80" stroke="#000" stroke-width="1.0"/>
<line x1="460.28" y1="460.40" x2="460.28" y2="458.40" stroke="#000" stroke-width="1.0"/>
<line x1="460.28" y1="261.00" x2="460.28" y2="263.00" stroke="#000" stroke-width="1.0"/>
<line x1="295.50" y1="457.49" x2="297.50" y2="457.49" stroke="#000" stroke-width="1.0"/>
<line x1="469.50" y1="457.49" x2="467.50" y2="457.49" stroke="#000" stroke-width="1.0"/>
<line x1="295.50" y1="451.80" x2="297.50" y2="451.80" stroke="#000" stroke-width="1.0"/>
<line x1="469.50" y1="451.80" x2="467.50" y2="451.80" stroke="#000" stroke-width="1.0"/>
<line x1="295.50" y1="446.10" x2="299.30" y2="446.10" stroke="#000" stroke-width="1.0"/>
<line x1="469.50" y1="446.10" x2="465.70" y2="446.10" stroke="#000" stroke-width="1.0"/>
<line x1="295.50" y1="440.40" x2="297.50" y2="440.40" stroke="#000" stroke-width="1.0"/>
<line x1="469.50" y1="440.40" x2="467.50" y2="440.40" stroke="#000" stroke-width="1.0"/>
<line x1="295.50" y1="434.71" x2="297.50" y2="434.71" stroke="#000" stroke-width="1.0"/>
<line x1="469.50" y1="434.71" x2="467.50" y2="434.71" stroke="#000" stroke-width="1.0"/>
<line x1="295.50" y1="429.01" x2="297.50" y2="429.01" stroke="#000" stroke-width="1.0"/>
<line x1="469.50" y1="429.01" x2="467.50" y2="429.01" stroke="#000" stroke-width="1.0"/>
<line x1="295.50" y1="423.31" x2="297.50" y2="423.31" stroke="#000" stroke-width="1.0"/>
<line x1="469.50" y1="423.31" x2="467.50" y2="423.31" stroke="#000" stroke-width="1.0"/>
<line x1="295.50" y1="417.62" x2="299.30" y2="417.62" stroke="#000" stroke-width="1.0"/>
<line x1="469.50" y1="417.62" x2="465.70" y2="417.62" stroke="#000" stroke-width="1.0"/>
<line x1="295.50" y1="411.92" x2="297.50" y2="411.92" stroke="#000" stroke-width="1.0"/>
<line x1="469.50" y1="411.92" x2="467.50" y2="411.92" stroke="#000" stroke-width="1.0"/>
<line x1="295.50" y1="406.22" x2="297.50" y2="406.22" stroke="#000" stroke-width="1.0"/>
<line x1="469.50" y1="406.22" x2="467.50" y2="406.22" stroke="#000" stroke-width="1.0"/>
<line x1="295.50" y1="400.52" x2="297.50" y2="400.52" stroke="#000" stroke-width="1.0"/>
<line x1="469.50" y1="400.52" x2="467.50" y2="400.52" stroke="#000" stroke-width="1.0"/>
<line x1="295.50" y1="394.83" x2="297.50" y2="394.83" stroke="#000" stroke-width="1.0"/>
<line x1="469.50" y1="394.83" x2="467.50" y2="394.83" stroke="#000" stroke-width="1.0"/>
<line x1="295.50" y1="389.13" x2="299.30" y2="389.13" stroke="#000" stroke-width="1.0"/>
<line x1="469.50" y1="389.13" x2="465.70" y2="389.13" stroke="#000" stroke-width="1.0"/>
<line x1="295.50" y1="383.43" x2="297.50" y2="383.43" stroke="#000" stroke-width="1.0"/>
<line x1="469.50" y1="383.43" x2="467.50" y2="383.43" stroke="#000" stroke-width="1.0"/>
<line x1="295.50" y1="377.74" x2="297.50" y2="377.74" stroke="#000" stroke-width="1.0"/>
<line x1="469.50" y1="377.74" x2="467.50" y2="377.74" stroke="#000" stroke-width="1.0"/>
<line x1="295.50" y1="372.04" x2="297.50" y2="372.04" stroke="#000" stroke-width="1.0"/>
<line x1="469.50" y1="372.04" x2="467.50" y2="372.04" stroke="#000" stroke-width="1.0"/>
<line x1="295.50" y1="366.34" x2="297.50" y2="366.34" stroke="#000" stroke-width="1.0"/>
<line x1="469.50" y1="366.34" x2="467.50" y2="366.34" stroke="#000" stroke-width="1.0"/>
<line x1="295.50" y1="360.65" x2="299.30" y2="360.65" stroke="#000" stroke-width="1.0"/>
<line x1="469.50" y1="360.65" x2="465.70" y2="360.65" stroke="#000" stroke-width="1.0"/>
<line x1="295.50" y1="354.95" x2="297.50" y2="354.95" stroke="#000" stroke-width="1.0"/>
<line x1="469.50" y1="354.95" x2="467.50" y2="354.95" stroke="#000" stroke-width="1.0"/>
<line x1="295.50" y1="349.25" x2="297.50" y2="349.25" stroke="#000" stroke-width="1.0"/>
<line x1="469.50" y1="349.25" x2="467.50" y2="349.25" stroke="#000" stroke-width="1.0"/>
<line x1="295.50" y1="343.55" x2="297.50" y2="343.55" stroke="#000" stroke-width="1.0"/>
<line x1="469.50" y1="343.55" x2="467.50" y2="343.55" stroke="#000" stroke-width="1.0"/>
<line x1="295.50" y1="337.86" x2="297.50" y2="337.86" stroke="#000" stroke-width="1.0"/>
<line x1="469.50" y1="337.86" x2="467.50" y2="337.86" stroke="#000" stroke-width="1.0"/>
<line x1="295.50" y1="332.16" x2="299.30" y2="332.16" stroke="#000" stroke-width="1.0"/>
<line x1="469.50" y1="332.16" x2="465.70" y2="332.16" stroke="#000" stroke-width="1.0"/>
<line x1="295.50" y1="326.46" x2="297.50" y2="326.46" stroke="#000" stroke-width="1.0"/>
<line x1="469.50" y1="326.46" x2="467.50" y2="326.46" stroke="#000" stroke-width="1.0"/>
<line x1="295.50" y1="320.77" x2="297.50" y2="320.77" stroke="#000" stroke-width="1.0"/>
<line x1="469.50" y1="320.77" x2="467.50" y2="320.77" stroke="#000" stroke-width="1.0"/>
<line x1="295.50" y1="315.07" x2="297.50" y2="315.07" stroke="#000" stroke-width="1.0"/>
<line x1="469.50" y1="315.07" x2="467.50" y2="315.07" stroke="#000" stroke-width="1.0"/>
<line x1="295.50" y1="309.37" x2="297.50" y2="309.37" stroke="#000" stroke-width="1.0"/>
<line x1="469.50" y1="309.37" x2="467.50" y2="309.37" stroke="#000" stroke-width="1.0"/>
<line x1="295.50" y1="303.68" x2="299.30" y2="303.68" stroke="#000" stroke-width="1.0"/>
<line x1="469.50" y1="303.68" x2="465.70" y2="303.68" stroke="#000" stroke-width="1.0"/>
<line x1="295.50" y1="297.98" x2="297.50" y2="297.98" stroke="#000" stroke-width="1.0"/>
<line x1="469.50" y1="297.98" x2="467.50" y2="297.98" stroke="#000" stroke-width="1.0"/>
<line x1="295.50" y1="292.28" x2="297.50" y2="292.28" stroke="#000" stroke-width="1.0"/>
<line x1="469.50" y1="292.28" x2="467.50" y2="292.28" stroke="#000" stroke-width="1.0"/>
<line x1="295.50" y1="286.58" x2="297.50" y2="286.58" stroke="#000" stroke-width="1.0"/>
<line x1="469.50" y1="286.58" x2="467.50" y2="286.58" stroke="#000" stroke-width="1.0"/>
<line x1="295.50" y1="280.89" x2="297.50" y2="280.89" stroke="#000" stroke-width="1.0"/>
<line x1="469.50" y1="280.89" x2="467.50" y2="280.89" stroke="#000" stroke-width="1.0"/>
<line x1="295.50" y1="275.19" x2="299.30" y2="275.19" stroke="#000" stroke-width="1.0"/>
<line x1="469.50" y1="275.19" x2="465.70" y2="275.19" stroke="#000" stroke-width="1.0"/>
<line x1="295.50" y1="269.49" x2="297.50" y2="269.49" stroke="#000" stroke-width="1.0"/>
<line x1="469.50" y1="269.49" x2="467.50" y2="269.49" stroke="#000" stroke-width="1.0"/>
<line x1="295.50" y1="263.80" x2="297.50" y2="263.80" stroke="#000" stroke-width="1.0"/>
<line x1="469.50" y1="263.80" x2="467.50" y2="263.80" stroke="#000" stroke-width="1.0"/>
<rect x="295.50" y="261.00" width="174.00" height="199.40" fill="none" stroke="#000" stroke-width="1.15"/>
<line x1="556.30" y1="460.40" x2="556.30" y2="456.60" stroke="#000" stroke-width="1.0"/>
<line x1="556.30" y1="261.00" x2="556.30" y2="264.80" stroke="#000" stroke-width="1.0"/>
<line x1="562.44" y1="460.40" x2="562.44" y2="458.40" stroke="#000" stroke-width="1.0"/>
<line x1="562.44" y1="261.00" x2="562.44" y2="263.00" stroke="#000" stroke-width="1.0"/>
<line x1="568.59" y1="460.40" x2="568.59" y2="458.40" stroke="#000" stroke-width="1.0"/>
<line x1="568.59" y1="261.00" x2="568.59" y2="263.00" stroke="#000" stroke-width="1.0"/>
<line x1="574.73" y1="460.40" x2="574.73" y2="458.40" stroke="#000" stroke-width="1.0"/>
<line x1="574.73" y1="261.00" x2="574.73" y2="263.00" stroke="#000" stroke-width="1.0"/>
<line x1="580.88" y1="460.40" x2="580.88" y2="458.40" stroke="#000" stroke-width="1.0"/>
<line x1="580.88" y1="261.00" x2="580.88" y2="263.00" stroke="#000" stroke-width="1.0"/>
<line x1="587.02" y1="460.40" x2="587.02" y2="456.60" stroke="#000" stroke-width="1.0"/>
<line x1="587.02" y1="261.00" x2="587.02" y2="264.80" stroke="#000" stroke-width="1.0"/>
<line x1="593.17" y1="460.40" x2="593.17" y2="458.40" stroke="#000" stroke-width="1.0"/>
<line x1="593.17" y1="261.00" x2="593.17" y2="263.00" stroke="#000" stroke-width="1.0"/>
<line x1="599.31" y1="460.40" x2="599.31" y2="458.40" stroke="#000" stroke-width="1.0"/>
<line x1="599.31" y1="261.00" x2="599.31" y2="263.00" stroke="#000" stroke-width="1.0"/>
<line x1="605.46" y1="460.40" x2="605.46" y2="458.40" stroke="#000" stroke-width="1.0"/>
<line x1="605.46" y1="261.00" x2="605.46" y2="263.00" stroke="#000" stroke-width="1.0"/>
<line x1="611.60" y1="460.40" x2="611.60" y2="458.40" stroke="#000" stroke-width="1.0"/>
<line x1="611.60" y1="261.00" x2="611.60" y2="263.00" stroke="#000" stroke-width="1.0"/>
<line x1="617.75" y1="460.40" x2="617.75" y2="456.60" stroke="#000" stroke-width="1.0"/>
<line x1="617.75" y1="261.00" x2="617.75" y2="264.80" stroke="#000" stroke-width="1.0"/>
<line x1="623.89" y1="460.40" x2="623.89" y2="458.40" stroke="#000" stroke-width="1.0"/>
<line x1="623.89" y1="261.00" x2="623.89" y2="263.00" stroke="#000" stroke-width="1.0"/>
<line x1="630.04" y1="460.40" x2="630.04" y2="458.40" stroke="#000" stroke-width="1.0"/>
<line x1="630.04" y1="261.00" x2="630.04" y2="263.00" stroke="#000" stroke-width="1.0"/>
<line x1="636.18" y1="460.40" x2="636.18" y2="458.40" stroke="#000" stroke-width="1.0"/>
<line x1="636.18" y1="261.00" x2="636.18" y2="263.00" stroke="#000" stroke-width="1.0"/>
<line x1="642.33" y1="460.40" x2="642.33" y2="458.40" stroke="#000" stroke-width="1.0"/>
<line x1="642.33" y1="261.00" x2="642.33" y2="263.00" stroke="#000" stroke-width="1.0"/>
<line x1="648.47" y1="460.40" x2="648.47" y2="456.60" stroke="#000" stroke-width="1.0"/>
<line x1="648.47" y1="261.00" x2="648.47" y2="264.80" stroke="#000" stroke-width="1.0"/>
<line x1="654.62" y1="460.40" x2="654.62" y2="458.40" stroke="#000" stroke-width="1.0"/>
<line x1="654.62" y1="261.00" x2="654.62" y2="263.00" stroke="#000" stroke-width="1.0"/>
<line x1="660.76" y1="460.40" x2="660.76" y2="458.40" stroke="#000" stroke-width="1.0"/>
<line x1="660.76" y1="261.00" x2="660.76" y2="263.00" stroke="#000" stroke-width="1.0"/>
<line x1="666.91" y1="460.40" x2="666.91" y2="458.40" stroke="#000" stroke-width="1.0"/>
<line x1="666.91" y1="261.00" x2="666.91" y2="263.00" stroke="#000" stroke-width="1.0"/>
<line x1="673.05" y1="460.40" x2="673.05" y2="458.40" stroke="#000" stroke-width="1.0"/>
<line x1="673.05" y1="261.00" x2="673.05" y2="263.00" stroke="#000" stroke-width="1.0"/>
<line x1="679.20" y1="460.40" x2="679.20" y2="456.60" stroke="#000" stroke-width="1.0"/>
<line x1="679.20" y1="261.00" x2="679.20" y2="264.80" stroke="#000" stroke-width="1.0"/>
<line x1="685.35" y1="460.40" x2="685.35" y2="458.40" stroke="#000" stroke-width="1.0"/>
<line x1="685.35" y1="261.00" x2="685.35" y2="263.00" stroke="#000" stroke-width="1.0"/>
<line x1="691.49" y1="460.40" x2="691.49" y2="458.40" stroke="#000" stroke-width="1.0"/>
<line x1="691.49" y1="261.00" x2="691.49" y2="263.00" stroke="#000" stroke-width="1.0"/>
<line x1="697.63" y1="460.40" x2="697.63" y2="458.40" stroke="#000" stroke-width="1.0"/>
<line x1="697.63" y1="261.00" x2="697.63" y2="263.00" stroke="#000" stroke-width="1.0"/>
<line x1="703.78" y1="460.40" x2="703.78" y2="458.40" stroke="#000" stroke-width="1.0"/>
<line x1="703.78" y1="261.00" x2="703.78" y2="263.00" stroke="#000" stroke-width="1.0"/>
<line x1="709.92" y1="460.40" x2="709.92" y2="456.60" stroke="#000" stroke-width="1.0"/>
<line x1="709.92" y1="261.00" x2="709.92" y2="264.80" stroke="#000" stroke-width="1.0"/>
<line x1="716.07" y1="460.40" x2="716.07" y2="458.40" stroke="#000" stroke-width="1.0"/>
<line x1="716.07" y1="261.00" x2="716.07" y2="263.00" stroke="#000" stroke-width="1.0"/>
<line x1="722.21" y1="460.40" x2="722.21" y2="458.40" stroke="#000" stroke-width="1.0"/>
<line x1="722.21" y1="261.00" x2="722.21" y2="263.00" stroke="#000" stroke-width="1.0"/>
<line x1="550.80" y1="447.43" x2="552.80" y2="447.43" stroke="#000" stroke-width="1.0"/>
<line x1="724.40" y1="447.43" x2="722.40" y2="447.43" stroke="#000" stroke-width="1.0"/>
<line x1="550.80" y1="434.10" x2="554.60" y2="434.10" stroke="#000" stroke-width="1.0"/>
<line x1="724.40" y1="434.10" x2="720.60" y2="434.10" stroke="#000" stroke-width="1.0"/>
<line x1="550.80" y1="420.78" x2="552.80" y2="420.78" stroke="#000" stroke-width="1.0"/>
<line x1="724.40" y1="420.78" x2="722.40" y2="420.78" stroke="#000" stroke-width="1.0"/>
<line x1="550.80" y1="407.45" x2="552.80" y2="407.45" stroke="#000" stroke-width="1.0"/>
<line x1="724.40" y1="407.45" x2="722.40" y2="407.45" stroke="#000" stroke-width="1.0"/>
<line x1="550.80" y1="394.12" x2="552.80" y2="394.12" stroke="#000" stroke-width="1.0"/>
<line x1="724.40" y1="394.12" x2="722.40" y2="394.12" stroke="#000" stroke-width="1.0"/>
<line x1="550.80" y1="380.80" x2="554.60" y2="380.80" stroke="#000" stroke-width="1.0"/>
<line x1="724.40" y1="380.80" x2="720.60" y2="380.80" stroke="#000" stroke-width="1.0"/>
<line x1="550.80" y1="367.48" x2="552.80" y2="367.48" stroke="#000" stroke-width="1.0"/>
<line x1="724.40" y1="367.48" x2="722.40" y2="367.48" stroke="#000" stroke-width="1.0"/>
<line x1="550.80" y1="354.15" x2="552.80" y2="354.15" stroke="#000" stroke-width="1.0"/>
<line x1="724.40" y1="354.15" x2="722.40" y2="354.15" stroke="#000" stroke-width="1.0"/>
<line x1="550.80" y1="340.83" x2="552.80" y2="340.83" stroke="#000" stroke-width="1.0"/>
<line x1="724.40" y1="340.83" x2="722.40" y2="340.83" stroke="#000" stroke-width="1.0"/>
<line x1="550.80" y1="327.50" x2="554.60" y2="327.50" stroke="#000" stroke-width="1.0"/>
<line x1="724.40" y1="327.50" x2="720.60" y2="327.50" stroke="#000" stroke-width="1.0"/>
<line x1="550.80" y1="314.18" x2="552.80" y2="314.18" stroke="#000" stroke-width="1.0"/>
<line x1="724.40" y1="314.18" x2="722.40" y2="314.18" stroke="#000" stroke-width="1.0"/>
<line x1="550.80" y1="300.85" x2="552.80" y2="300.85" stroke="#000" stroke-width="1.0"/>
<line x1="724.40" y1="300.85" x2="722.40" y2="300.85" stroke="#000" stroke-width="1.0"/>
<line x1="550.80" y1="287.52" x2="552.80" y2="287.52" stroke="#000" stroke-width="1.0"/>
<line x1="724.40" y1="287.52" x2="722.40" y2="287.52" stroke="#000" stroke-width="1.0"/>
<line x1="550.80" y1="274.20" x2="554.60" y2="274.20" stroke="#000" stroke-width="1.0"/>
<line x1="724.40" y1="274.20" x2="720.60" y2="274.20" stroke="#000" stroke-width="1.0"/>
<rect x="550.80" y="261.00" width="173.60" height="199.40" fill="none" stroke="#000" stroke-width="1.15"/>
<line x1="550.8" y1="156.5" x2="724.4" y2="21.8" stroke="#666" stroke-width="0.8"/>
<line x1="48.8" y1="261.0" x2="155.6" y2="460.4" stroke="#666" stroke-width="0.8"/>
<circle cx="91.30" cy="117.45" r="2.3" fill="#00ff00" stroke="#004000" stroke-width="0.6"/>
<circle cx="148.70" cy="117.75" r="2.3" fill="#00ff00" stroke="#004000" stroke-width="0.6"/>
<circle cx="68.30" cy="129.25" r="2.3" fill="#00ff00" stroke="#004000" stroke-width="0.6"/>
<circle cx="198.60" cy="125.65" r="2.3" fill="#00ff00" stroke="#004000" stroke-width="0.6"/>
<circle cx="62.70" cy="141.75" r="2.3" fill="#00ff00" stroke="#004000" stroke-width="0.6"/>
<circle cx="67.40" cy="147.15" r="2.3" fill="#00ff00" stroke="#004000" stroke-width="0.6"/>
<circle cx="106.60" cy="151.75" r="2.3" fill="#00ff00" stroke="#004000" stroke-width="0.6"/>
<circle cx="141.50" cy="152.85" r="2.3" fill="#00ff00" stroke="#004000" stroke-width="0.6"/>
<circle cx="84.80" cy="158.65" r="2.3" fill="#00ff00" stroke="#004000" stroke-width="0.6"/>
<circle cx="89.90" cy="162.55" r="2.3" fill="#00ff00" stroke="#004000" stroke-width="0.6"/>
<circle cx="90.80" cy="161.35" r="2.3" fill="#00ff00" stroke="#004000" stroke-width="0.6"/>
<circle cx="112.90" cy="159.65" r="2.3" fill="#00ff00" stroke="#004000" stroke-width="0.6"/>
<circle cx="118.30" cy="163.05" r="2.3" fill="#00ff00" stroke="#004000" stroke-width="0.6"/>
<circle cx="61.50" cy="165.35" r="2.3" fill="#00ff00" stroke="#004000" stroke-width="0.6"/>
<circle cx="60.40" cy="166.95" r="2.3" fill="#00ff00" stroke="#004000" stroke-width="0.6"/>
<circle cx="106.90" cy="165.75" r="2.3" fill="#00ff00" stroke="#004000" stroke-width="0.6"/>
<circle cx="107.80" cy="176.05" r="2.3" fill="#00ff00" stroke="#004000" stroke-width="0.6"/>
<circle cx="77.00" cy="182.55" r="2.3" fill="#00ff00" stroke="#004000" stroke-width="0.6"/>
<circle cx="68.80" cy="187.75" r="2.3" fill="#00ff00" stroke="#004000" stroke-width="0.6"/>
<circle cx="60.20" cy="193.05" r="2.3" fill="#00ff00" stroke="#004000" stroke-width="0.6"/>
<circle cx="81.50" cy="46.05" r="2.3" fill="#ff0000" stroke="#400000" stroke-width="0.6"/>
<circle cx="99.30" cy="43.85" r="2.3" fill="#ff0000" stroke="#400000" stroke-width="0.6"/>
<circle cx="57.10" cy="57.35" r="2.3" fill="#ff0000" stroke="#400000" stroke-width="0.6"/>
<circle cx="87.30" cy="58.85" r="2.3" fill="#ff0000" stroke="#400000" stroke-width="0.6"/>
<circle cx="71.80" cy="67.85" r="2.3" fill="#ff0000" stroke="#400000" stroke-width="0.6"/>
<circle cx="81.50" cy="67.85" r="2.3" fill="#ff0000" stroke="#400000" stroke-width="0.6"/>
<circle cx="113.00" cy="66.05" r="2.3" fill="#ff0000" stroke="#400000" stroke-width="0.6"/>
<circle cx="109.20" cy="74.75" r="2.3" fill="#ff0000" stroke="#400000" stroke-width="0.6"/>
<circle cx="80.80" cy="86.05" r="2.3" fill="#ff0000" stroke="#400000" stroke-width="0.6"/>
<circle cx="75.30" cy="89.25" r="2.3" fill="#ff0000" stroke="#400000" stroke-width="0.6"/>
<circle cx="78.80" cy="93.05" r="2.3" fill="#ff0000" stroke="#400000" stroke-width="0.6"/>
<circle cx="74.00" cy="96.75" r="2.3" fill="#ff0000" stroke="#400000" stroke-width="0.6"/>
<circle cx="86.50" cy="96.75" r="2.3" fill="#ff0000" stroke="#400000" stroke-width="0.6"/>
<circle cx="94.30" cy="99.25" r="2.3" fill="#ff0000" stroke="#400000" stroke-width="0.6"/>
<circle cx="99.80" cy="96.75" r="2.3" fill="#ff0000" stroke="#400000" stroke-width="0.6"/>
<circle cx="108.00" cy="97.05" r="2.3" fill="#ff0000" stroke="#400000" stroke-width="0.6"/>
<circle cx="61.60" cy="104.55" r="2.3" fill="#ff0000" stroke="#400000" stroke-width="0.6"/>
<circle cx="121.00" cy="106.55" r="2.3" fill="#ff0000" stroke="#400000" stroke-width="0.6"/>
<circle cx="91.50" cy="110.75" r="2.3" fill="#ff0000" stroke="#400000" stroke-width="0.6"/>
<circle cx="63.60" cy="116.45" r="2.3" fill="#ff0000" stroke="#400000" stroke-width="0.6"/>
<circle cx="98.90" cy="121.55" r="2.3" fill="#ff0000" stroke="#400000" stroke-width="0.6"/>
<circle cx="70.20" cy="128.05" r="2.3" fill="#ff0000" stroke="#400000" stroke-width="0.6"/>
<circle cx="76.70" cy="127.05" r="2.3" fill="#ff0000" stroke="#400000" stroke-width="0.6"/>
<circle cx="113.00" cy="127.95" r="2.3" fill="#ff0000" stroke="#400000" stroke-width="0.6"/>
<circle cx="87.40" cy="134.65" r="2.3" fill="#ff0000" stroke="#400000" stroke-width="0.6"/>
<circle cx="57.10" cy="136.75" r="2.3" fill="#ff0000" stroke="#400000" stroke-width="0.6"/>
<circle cx="80.70" cy="145.15" r="2.3" fill="#ff0000" stroke="#400000" stroke-width="0.6"/>
<circle cx="61.60" cy="146.65" r="2.3" fill="#ff0000" stroke="#400000" stroke-width="0.6"/>
<circle cx="57.10" cy="150.95" r="2.3" fill="#ff0000" stroke="#400000" stroke-width="0.6"/>
<circle cx="107.30" cy="147.85" r="2.3" fill="#ff0000" stroke="#400000" stroke-width="0.6"/>
<circle cx="118.30" cy="146.65" r="2.3" fill="#ff0000" stroke="#400000" stroke-width="0.6"/>
<circle cx="80.80" cy="153.95" r="2.3" fill="#ff0000" stroke="#400000" stroke-width="0.6"/>
<circle cx="77.60" cy="155.75" r="2.3" fill="#ff0000" stroke="#400000" stroke-width="0.6"/>
<circle cx="73.90" cy="161.25" r="2.3" fill="#ff0000" stroke="#400000" stroke-width="0.6"/>
<circle cx="76.70" cy="161.25" r="2.3" fill="#ff0000" stroke="#400000" stroke-width="0.6"/>
<circle cx="68.70" cy="165.45" r="2.3" fill="#ff0000" stroke="#400000" stroke-width="0.6"/>
<circle cx="90.90" cy="169.35" r="2.3" fill="#ff0000" stroke="#400000" stroke-width="0.6"/>
<circle cx="88.80" cy="184.55" r="2.3" fill="#ff0000" stroke="#400000" stroke-width="0.6"/>
<circle cx="72.05" cy="16.35" r="2.3" fill="#0000ff" stroke="#000060" stroke-width="0.6"/>
<circle cx="63.80" cy="26.15" r="2.3" fill="#0000ff" stroke="#000060" stroke-width="0.6"/>
<circle cx="156.70" cy="16.15" r="2.3" fill="#0000ff" stroke="#000060" stroke-width="0.6"/>
<circle cx="183.20" cy="12.85" r="2.3" fill="#0000ff" stroke="#000060" stroke-width="0.6"/>
<circle cx="86.30" cy="38.15" r="2.3" fill="#0000ff" stroke="#000060" stroke-width="0.6"/>
<circle cx="105.80" cy="38.35" r="2.3" fill="#0000ff" stroke="#000060" stroke-width="0.6"/>
<circle cx="141.50" cy="47.05" r="2.3" fill="#0000ff" stroke="#000060" stroke-width="0.6"/>
<circle cx="96.30" cy="55.05" r="2.3" fill="#0000ff" stroke="#000060" stroke-width="0.6"/>
<circle cx="100.80" cy="54.85" r="2.3" fill="#0000ff" stroke="#000060" stroke-width="0.6"/>
<circle cx="110.50" cy="61.05" r="2.3" fill="#0000ff" stroke="#000060" stroke-width="0.6"/>
<circle cx="128.50" cy="67.85" r="2.3" fill="#0000ff" stroke="#000060" stroke-width="0.6"/>
<circle cx="123.20" cy="99.25" r="2.3" fill="#0000ff" stroke="#000060" stroke-width="0.6"/>
<circle cx="69.10" cy="108.55" r="2.3" fill="#0000ff" stroke="#000060" stroke-width="0.6"/>
<circle cx="78.90" cy="122.95" r="2.3" fill="#0000ff" stroke="#000060" stroke-width="0.6"/>
<circle cx="86.20" cy="140.95" r="2.3" fill="#0000ff" stroke="#000060" stroke-width="0.6"/>
<circle cx="453.90" cy="14.15" r="2.3" fill="#00ff00" stroke="#004000" stroke-width="0.6"/>
<circle cx="404.20" cy="53.35" r="2.3" fill="#00ff00" stroke="#004000" stroke-width="0.6"/>
<circle cx="373.70" cy="94.35" r="2.3" fill="#00ff00" stroke="#004000" stroke-width="0.6"/>
<circle cx="397.20" cy="102.05" r="2.3" fill="#00ff00" stroke="#004000" stroke-width="0.6"/>
<circle cx="368.30" cy="113.35" r="2.3" fill="#00ff00" stroke="#004000" stroke-width="0.6"/>
<circle cx="346.20" cy="114.55" r="2.3" fill="#00ff00" stroke="#004000" stroke-width="0.6"/>
<circle cx="340.10" cy="121.45" r="2.3" fill="#00ff00" stroke="#004000" stroke-width="0.6"/>
<circle cx="346.10" cy="121.05" r="2.3" fill="#00ff00" stroke="#004000" stroke-width="0.6"/>
<circle cx="362.20" cy="121.55" r="2.3" fill="#00ff00" stroke="#004000" stroke-width="0.6"/>
<circle cx="363.00" cy="127.75" r="2.3" fill="#00ff00" stroke="#004000" stroke-width="0.6"/>
<circle cx="362.40" cy="138.45" r="2.3" fill="#00ff00" stroke="#004000" stroke-width="0.6"/>
<circle cx="344.90" cy="144.65" r="2.3" fill="#00ff00" stroke="#004000" stroke-width="0.6"/>
<circle cx="322.60" cy="154.35" r="2.3" fill="#00ff00" stroke="#004000" stroke-width="0.6"/>
<circle cx="332.30" cy="157.55" r="2.3" fill="#00ff00" stroke="#004000" stroke-width="0.6"/>
<circle cx="318.20" cy="166.65" r="2.3" fill="#00ff00" stroke="#004000" stroke-width="0.6"/>
<circle cx="332.50" cy="172.55" r="2.3" fill="#00ff00" stroke="#004000" stroke-width="0.6"/>
<circle cx="317.10" cy="180.95" r="2.3" fill="#00ff00" stroke="#004000" stroke-width="0.6"/>
<circle cx="324.40" cy="183.15" r="2.3" fill="#00ff00" stroke="#004000" stroke-width="0.6"/>
<circle cx="315.50" cy="186.65" r="2.3" fill="#00ff00" stroke="#004000" stroke-width="0.6"/>
<circle cx="354.80" cy="33.15" r="2.3" fill="#ff0000" stroke="#400000" stroke-width="0.6"/>
<circle cx="342.80" cy="55.85" r="2.3" fill="#ff0000" stroke="#400000" stroke-width="0.6"/>
<circle cx="368.50" cy="73.05" r="2.3" fill="#ff0000" stroke="#400000" stroke-width="0.6"/>
<circle cx="364.80" cy="78.65" r="2.3" fill="#ff0000" stroke="#400000" stroke-width="0.6"/>
<circle cx="327.00" cy="78.65" r="2.3" fill="#ff0000" stroke="#400000" stroke-width="0.6"/>
<circle cx="337.10" cy="81.85" r="2.3" fill="#ff0000" stroke="#400000" stroke-width="0.6"/>
<circle cx="334.00" cy="85.85" r="2.3" fill="#ff0000" stroke="#400000" stroke-width="0.6"/>
<circle cx="363.40" cy="85.65" r="2.3" fill="#ff0000" stroke="#400000" stroke-width="0.6"/>
<circle cx="362.70" cy="90.35" r="2.3" fill="#ff0000" stroke="#400000" stroke-width="0.6"/>
<circle cx="368.50" cy="90.35" r="2.3" fill="#ff0000" stroke="#400000" stroke-width="0.6"/>
<circle cx="329.70" cy="95.75" r="2.3" fill="#ff0000" stroke="#400000" stroke-width="0.6"/>
<circle cx="337.10" cy="95.75" r="2.3" fill="#ff0000" stroke="#400000" stroke-width="0.6"/>
<circle cx="349.70" cy="95.75" r="2.3" fill="#ff0000" stroke="#400000" stroke-width="0.6"/>
<circle cx="330.70" cy="102.95" r="2.3" fill="#ff0000" stroke="#400000" stroke-width="0.6"/>
<circle cx="336.50" cy="102.95" r="2.3" fill="#ff0000" stroke="#400000" stroke-width="0.6"/>
<circle cx="355.20" cy="102.85" r="2.3" fill="#ff0000" stroke="#400000" stroke-width="0.6"/>
<circle cx="376.40" cy="102.85" r="2.3" fill="#ff0000" stroke="#400000" stroke-width="0.6"/>
<circle cx="333.10" cy="112.85" r="2.3" fill="#ff0000" stroke="#400000" stroke-width="0.6"/>
<circle cx="343.00" cy="112.55" r="2.3" fill="#ff0000" stroke="#400000" stroke-width="0.6"/>
<circle cx="346.80" cy="112.55" r="2.3" fill="#ff0000" stroke="#400000" stroke-width="0.6"/>
<circle cx="354.40" cy="112.85" r="2.3" fill="#ff0000" stroke="#400000" stroke-width="0.6"/>
<circle cx="373.60" cy="112.85" r="2.3" fill="#ff0000" stroke="#400000" stroke-width="0.6"/>
<circle cx="316.60" cy="130.15" r="2.3" fill="#ff0000" stroke="#400000" stroke-width="0.6"/>
<circle cx="318.90" cy="130.15" r="2.3" fill="#ff0000" stroke="#400000" stroke-width="0.6"/>
<circle cx="325.70" cy="130.15" r="2.3" fill="#ff0000" stroke="#400000" stroke-width="0.6"/>
<circle cx="329.70" cy="130.15" r="2.3" fill="#ff0000" stroke="#400000" stroke-width="0.6"/>
<circle cx="346.30" cy="132.75" r="2.3" fill="#ff0000" stroke="#400000" stroke-width="0.6"/>
<circle cx="331.90" cy="135.75" r="2.3" fill="#ff0000" stroke="#400000" stroke-width="0.6"/>
<circle cx="336.20" cy="142.75" r="2.3" fill="#ff0000" stroke="#400000" stroke-width="0.6"/>
<circle cx="344.20" cy="147.45" r="2.3" fill="#ff0000" stroke="#400000" stroke-width="0.6"/>
<circle cx="324.00" cy="152.75" r="2.3" fill="#ff0000" stroke="#400000" stroke-width="0.6"/>
<circle cx="331.90" cy="159.95" r="2.3" fill="#ff0000" stroke="#400000" stroke-width="0.6"/>
<circle cx="335.30" cy="159.95" r="2.3" fill="#ff0000" stroke="#400000" stroke-width="0.6"/>
<circle cx="316.80" cy="170.05" r="2.3" fill="#ff0000" stroke="#400000" stroke-width="0.6"/>
<circle cx="379.20" cy="21.85" r="2.3" fill="#0000ff" stroke="#000060" stroke-width="0.6"/>
<circle cx="327.30" cy="38.85" r="2.3" fill="#0000ff" stroke="#000060" stroke-width="0.6"/>
<circle cx="319.10" cy="45.05" r="2.3" fill="#0000ff" stroke="#000060" stroke-width="0.6"/>
<circle cx="411.70" cy="38.85" r="2.3" fill="#0000ff" stroke="#000060" stroke-width="0.6"/>
<circle cx="438.60" cy="37.05" r="2.3" fill="#0000ff" stroke="#000060" stroke-width="0.6"/>
<circle cx="341.80" cy="52.05" r="2.3" fill="#0000ff" stroke="#000060" stroke-width="0.6"/>
<circle cx="361.00" cy="52.35" r="2.3" fill="#0000ff" stroke="#000060" stroke-width="0.6"/>
<circle cx="397.00" cy="57.55" r="2.3" fill="#0000ff" stroke="#000060" stroke-width="0.6"/>
<circle cx="351.50" cy="62.05" r="2.3" fill="#0000ff" stroke="#000060" stroke-width="0.6"/>
<circle cx="355.80" cy="62.05" r="2.3" fill="#0000ff" stroke="#000060" stroke-width="0.6"/>
<circle cx="366.00" cy="66.05" r="2.3" fill="#0000ff" stroke="#000060" stroke-width="0.6"/>
<circle cx="383.70" cy="70.05" r="2.3" fill="#0000ff" stroke="#000060" stroke-width="0.6"/>
<circle cx="378.60" cy="88.55" r="2.3" fill="#0000ff" stroke="#000060" stroke-width="0.6"/>
<circle cx="324.40" cy="94.35" r="2.3" fill="#0000ff" stroke="#000060" stroke-width="0.6"/>
<circle cx="334.20" cy="102.95" r="2.3" fill="#0000ff" stroke="#000060" stroke-width="0.6"/>
<circle cx="341.70" cy="113.55" r="2.3" fill="#0000ff" stroke="#000060" stroke-width="0.6"/>
<circle cx="709.30" cy="33.55" r="2.3" fill="#00ff00" stroke="#004000" stroke-width="0.6"/>
<circle cx="652.40" cy="64.85" r="2.3" fill="#00ff00" stroke="#004000" stroke-width="0.6"/>
<circle cx="659.20" cy="75.85" r="2.3" fill="#00ff00" stroke="#004000" stroke-width="0.6"/>
<circle cx="618.50" cy="80.65" r="2.3" fill="#00ff00" stroke="#004000" stroke-width="0.6"/>
<circle cx="629.10" cy="78.35" r="2.3" fill="#00ff00" stroke="#004000" stroke-width="0.6"/>
<circle cx="623.50" cy="84.05" r="2.3" fill="#00ff00" stroke="#004000" stroke-width="0.6"/>
<circle cx="617.60" cy="86.25" r="2.3" fill="#00ff00" stroke="#004000" stroke-width="0.6"/>
<circle cx="617.30" cy="92.45" r="2.3" fill="#00ff00" stroke="#004000" stroke-width="0.6"/>
<circle cx="600.70" cy="100.95" r="2.3" fill="#00ff00" stroke="#004000" stroke-width="0.6"/>
<circle cx="587.70" cy="101.35" r="2.3" fill="#00ff00" stroke="#004000" stroke-width="0.6"/>
<circle cx="579.70" cy="105.35" r="2.3" fill="#00ff00" stroke="#004000" stroke-width="0.6"/>
<circle cx="595.50" cy="106.55" r="2.3" fill="#00ff00" stroke="#004000" stroke-width="0.6"/>
<circle cx="570.80" cy="109.55" r="2.3" fill="#00ff00" stroke="#004000" stroke-width="0.6"/>
<circle cx="587.60" cy="110.25" r="2.3" fill="#00ff00" stroke="#004000" stroke-width="0.6"/>
<circle cx="571.30" cy="121.05" r="2.3" fill="#00ff00" stroke="#004000" stroke-width="0.6"/>
<circle cx="572.00" cy="121.75" r="2.3" fill="#00ff00" stroke="#004000" stroke-width="0.6"/>
<circle cx="601.80" cy="120.25" r="2.3" fill="#00ff00" stroke="#004000" stroke-width="0.6"/>
<circle cx="578.10" cy="125.45" r="2.3" fill="#00ff00" stroke="#004000" stroke-width="0.6"/>
<circle cx="574.00" cy="132.15" r="2.3" fill="#00ff00" stroke="#004000" stroke-width="0.6"/>
<circle cx="578.60" cy="133.25" r="2.3" fill="#00ff00" stroke="#004000" stroke-width="0.6"/>
<circle cx="590.50" cy="82.85" r="2.3" fill="#ff0000" stroke="#400000" stroke-width="0.6"/>
<circle cx="629.10" cy="86.25" r="2.3" fill="#ff0000" stroke="#400000" stroke-width="0.6"/>
<circle cx="599.50" cy="92.05" r="2.3" fill="#ff0000" stroke="#400000" stroke-width="0.6"/>
<circle cx="601.50" cy="96.35" r="2.3" fill="#ff0000" stroke="#400000" stroke-width="0.6"/>
<circle cx="618.10" cy="93.95" r="2.3" fill="#ff0000" stroke="#400000" stroke-width="0.6"/>
<circle cx="623.80" cy="98.65" r="2.3" fill="#ff0000" stroke="#400000" stroke-width="0.6"/>
<circle cx="631.40" cy="102.45" r="2.3" fill="#ff0000" stroke="#400000" stroke-width="0.6"/>
<circle cx="584.80" cy="113.45" r="2.3" fill="#ff0000" stroke="#400000" stroke-width="0.6"/>
<circle cx="587.30" cy="111.75" r="2.3" fill="#ff0000" stroke="#400000" stroke-width="0.6"/>
<circle cx="589.00" cy="113.15" r="2.3" fill="#ff0000" stroke="#400000" stroke-width="0.6"/>
<circle cx="591.40" cy="111.75" r="2.3" fill="#ff0000" stroke="#400000" stroke-width="0.6"/>
<circle cx="591.40" cy="115.95" r="2.3" fill="#ff0000" stroke="#400000" stroke-width="0.6"/>
<circle cx="598.30" cy="116.05" r="2.3" fill="#ff0000" stroke="#400000" stroke-width="0.6"/>
<circle cx="609.50" cy="112.85" r="2.3" fill="#ff0000" stroke="#400000" stroke-width="0.6"/>
<circle cx="579.50" cy="116.45" r="2.3" fill="#ff0000" stroke="#400000" stroke-width="0.6"/>
<circle cx="618.80" cy="117.35" r="2.3" fill="#ff0000" stroke="#400000" stroke-width="0.6"/>
<circle cx="601.90" cy="123.95" r="2.3" fill="#ff0000" stroke="#400000" stroke-width="0.6"/>
<circle cx="605.00" cy="126.75" r="2.3" fill="#ff0000" stroke="#400000" stroke-width="0.6"/>
<circle cx="610.60" cy="124.85" r="2.3" fill="#ff0000" stroke="#400000" stroke-width="0.6"/>
<circle cx="620.00" cy="126.65" r="2.3" fill="#ff0000" stroke="#400000" stroke-width="0.6"/>
<circle cx="624.10" cy="127.75" r="2.3" fill="#ff0000" stroke="#400000" stroke-width="0.6"/>
<circle cx="587.10" cy="127.65" r="2.3" fill="#ff0000" stroke="#400000" stroke-width="0.6"/>
<circle cx="592.50" cy="130.15" r="2.3" fill="#ff0000" stroke="#400000" stroke-width="0.6"/>
<circle cx="597.30" cy="134.45" r="2.3" fill="#ff0000" stroke="#400000" stroke-width="0.6"/>
<circle cx="567.50" cy="132.15" r="2.3" fill="#ff0000" stroke="#400000" stroke-width="0.6"/>
<circle cx="572.40" cy="131.15" r="2.3" fill="#ff0000" stroke="#400000" stroke-width="0.6"/>
<circle cx="580.90" cy="132.15" r="2.3" fill="#ff0000" stroke="#400000" stroke-width="0.6"/>
<circle cx="567.70" cy="138.15" r="2.3" fill="#ff0000" stroke="#400000" stroke-width="0.6"/>
<circle cx="574.40" cy="142.35" r="2.3" fill="#ff0000" stroke="#400000" stroke-width="0.6"/>
<circle cx="584.90" cy="143.85" r="2.3" fill="#ff0000" stroke="#400000" stroke-width="0.6"/>
<circle cx="586.20" cy="145.35" r="2.3" fill="#ff0000" stroke="#400000" stroke-width="0.6"/>
<circle cx="589.70" cy="142.05" r="2.3" fill="#ff0000" stroke="#400000" stroke-width="0.6"/>
<circle cx="591.80" cy="144.15" r="2.3" fill="#ff0000" stroke="#400000" stroke-width="0.6"/>
<circle cx="610.20" cy="149.15" r="2.3" fill="#ff0000" stroke="#400000" stroke-width="0.6"/>
<circle cx="572.50" cy="150.75" r="2.3" fill="#ff0000" stroke="#400000" stroke-width="0.6"/>
<circle cx="598.20" cy="150.75" r="2.3" fill="#ff0000" stroke="#400000" stroke-width="0.6"/>
<circle cx="582.40" cy="158.75" r="2.3" fill="#ff0000" stroke="#400000" stroke-width="0.6"/>
<circle cx="567.80" cy="175.55" r="2.3" fill="#ff0000" stroke="#400000" stroke-width="0.6"/>
<circle cx="592.40" cy="179.35" r="2.3" fill="#ff0000" stroke="#400000" stroke-width="0.6"/>
<circle cx="693.60" cy="98.05" r="2.3" fill="#0000ff" stroke="#000060" stroke-width="0.6"/>
<circle cx="666.90" cy="117.25" r="2.3" fill="#0000ff" stroke="#000060" stroke-width="0.6"/>
<circle cx="652.20" cy="114.55" r="2.3" fill="#0000ff" stroke="#000060" stroke-width="0.6"/>
<circle cx="639.00" cy="114.75" r="2.3" fill="#0000ff" stroke="#000060" stroke-width="0.6"/>
<circle cx="634.00" cy="104.55" r="2.3" fill="#0000ff" stroke="#000060" stroke-width="0.6"/>
<circle cx="597.00" cy="113.75" r="2.3" fill="#0000ff" stroke="#000060" stroke-width="0.6"/>
<circle cx="589.30" cy="128.05" r="2.3" fill="#0000ff" stroke="#000060" stroke-width="0.6"/>
<circle cx="621.60" cy="131.85" r="2.3" fill="#0000ff" stroke="#000060" stroke-width="0.6"/>
<circle cx="579.70" cy="142.25" r="2.3" fill="#0000ff" stroke="#000060" stroke-width="0.6"/>
<circle cx="611.30" cy="142.45" r="2.3" fill="#0000ff" stroke="#000060" stroke-width="0.6"/>
<circle cx="607.30" cy="145.75" r="2.3" fill="#0000ff" stroke="#000060" stroke-width="0.6"/>
<circle cx="616.30" cy="146.55" r="2.3" fill="#0000ff" stroke="#000060" stroke-width="0.6"/>
<circle cx="634.70" cy="155.95" r="2.3" fill="#0000ff" stroke="#000060" stroke-width="0.6"/>
<circle cx="634.50" cy="155.95" r="2.3" fill="#0000ff" stroke="#000060" stroke-width="0.6"/>
<circle cx="597.00" cy="161.95" r="2.3" fill="#0000ff" stroke="#000060" stroke-width="0.6"/>
<circle cx="574.60" cy="184.55" r="2.3" fill="#0000ff" stroke="#000060" stroke-width="0.6"/>
<circle cx="582.70" cy="183.05" r="2.3" fill="#0000ff" stroke="#000060" stroke-width="0.6"/>
<circle cx="121.00" cy="387.35" r="2.3" fill="#00ff00" stroke="#004000" stroke-width="0.6"/>
<circle cx="165.90" cy="387.55" r="2.3" fill="#00ff00" stroke="#004000" stroke-width="0.6"/>
<circle cx="208.40" cy="394.05" r="2.3" fill="#00ff00" stroke="#004000" stroke-width="0.6"/>
<circle cx="108.50" cy="397.55" r="2.3" fill="#00ff00" stroke="#004000" stroke-width="0.6"/>
<circle cx="110.20" cy="408.25" r="2.3" fill="#00ff00" stroke="#004000" stroke-width="0.6"/>
<circle cx="116.50" cy="413.05" r="2.3" fill="#00ff00" stroke="#004000" stroke-width="0.6"/>
<circle cx="149.00" cy="417.45" r="2.3" fill="#00ff00" stroke="#004000" stroke-width="0.6"/>
<circle cx="177.20" cy="418.25" r="2.3" fill="#00ff00" stroke="#004000" stroke-width="0.6"/>
<circle cx="135.30" cy="423.15" r="2.3" fill="#00ff00" stroke="#004000" stroke-width="0.6"/>
<circle cx="141.00" cy="425.95" r="2.3" fill="#00ff00" stroke="#004000" stroke-width="0.6"/>
<circle cx="120.50" cy="429.15" r="2.3" fill="#00ff00" stroke="#004000" stroke-width="0.6"/>
<circle cx="120.50" cy="430.75" r="2.3" fill="#00ff00" stroke="#004000" stroke-width="0.6"/>
<circle cx="157.80" cy="424.35" r="2.3" fill="#00ff00" stroke="#004000" stroke-width="0.6"/>
<circle cx="163.70" cy="427.25" r="2.3" fill="#00ff00" stroke="#004000" stroke-width="0.6"/>
<circle cx="156.10" cy="429.45" r="2.3" fill="#00ff00" stroke="#004000" stroke-width="0.6"/>
<circle cx="161.50" cy="438.45" r="2.3" fill="#00ff00" stroke="#004000" stroke-width="0.6"/>
<circle cx="140.50" cy="444.35" r="2.3" fill="#00ff00" stroke="#004000" stroke-width="0.6"/>
<circle cx="136.60" cy="448.95" r="2.3" fill="#00ff00" stroke="#004000" stroke-width="0.6"/>
<circle cx="132.30" cy="453.25" r="2.3" fill="#00ff00" stroke="#004000" stroke-width="0.6"/>
<circle cx="62.10" cy="324.85" r="2.3" fill="#ff0000" stroke="#400000" stroke-width="0.6"/>
<circle cx="66.10" cy="334.25" r="2.3" fill="#ff0000" stroke="#400000" stroke-width="0.6"/>
<circle cx="93.00" cy="322.55" r="2.3" fill="#ff0000" stroke="#400000" stroke-width="0.6"/>
<circle cx="91.00" cy="336.05" r="2.3" fill="#ff0000" stroke="#400000" stroke-width="0.6"/>
<circle cx="82.80" cy="344.05" r="2.3" fill="#ff0000" stroke="#400000" stroke-width="0.6"/>
<circle cx="111.50" cy="344.05" r="2.3" fill="#ff0000" stroke="#400000" stroke-width="0.6"/>
<circle cx="114.20" cy="342.25" r="2.3" fill="#ff0000" stroke="#400000" stroke-width="0.6"/>
<circle cx="115.00" cy="349.75" r="2.3" fill="#ff0000" stroke="#400000" stroke-width="0.6"/>
<circle cx="97.80" cy="359.55" r="2.3" fill="#ff0000" stroke="#400000" stroke-width="0.6"/>
<circle cx="96.00" cy="362.65" r="2.3" fill="#ff0000" stroke="#400000" stroke-width="0.6"/>
<circle cx="99.30" cy="365.65" r="2.3" fill="#ff0000" stroke="#400000" stroke-width="0.6"/>
<circle cx="97.50" cy="369.35" r="2.3" fill="#ff0000" stroke="#400000" stroke-width="0.6"/>
<circle cx="107.30" cy="369.15" r="2.3" fill="#ff0000" stroke="#400000" stroke-width="0.6"/>
<circle cx="116.70" cy="369.15" r="2.3" fill="#ff0000" stroke="#400000" stroke-width="0.6"/>
<circle cx="115.10" cy="371.45" r="2.3" fill="#ff0000" stroke="#400000" stroke-width="0.6"/>
<circle cx="124.40" cy="369.25" r="2.3" fill="#ff0000" stroke="#400000" stroke-width="0.6"/>
<circle cx="90.80" cy="375.75" r="2.3" fill="#ff0000" stroke="#400000" stroke-width="0.6"/>
<circle cx="139.20" cy="377.75" r="2.3" fill="#ff0000" stroke="#400000" stroke-width="0.6"/>
<circle cx="117.60" cy="381.55" r="2.3" fill="#ff0000" stroke="#400000" stroke-width="0.6"/>
<circle cx="99.30" cy="386.45" r="2.3" fill="#ff0000" stroke="#400000" stroke-width="0.6"/>
<circle cx="129.00" cy="390.65" r="2.3" fill="#ff0000" stroke="#400000" stroke-width="0.6"/>
<circle cx="109.50" cy="396.55" r="2.3" fill="#ff0000" stroke="#400000" stroke-width="0.6"/>
<circle cx="114.10" cy="395.75" r="2.3" fill="#ff0000" stroke="#400000" stroke-width="0.6"/>
<circle cx="143.50" cy="396.55" r="2.3" fill="#ff0000" stroke="#400000" stroke-width="0.6"/>
<circle cx="126.50" cy="402.15" r="2.3" fill="#ff0000" stroke="#400000" stroke-width="0.6"/>
<circle cx="103.60" cy="404.25" r="2.3" fill="#ff0000" stroke="#400000" stroke-width="0.6"/>
<circle cx="111.00" cy="412.35" r="2.3" fill="#ff0000" stroke="#400000" stroke-width="0.6"/>
<circle cx="126.20" cy="411.65" r="2.3" fill="#ff0000" stroke="#400000" stroke-width="0.6"/>
<circle cx="109.60" cy="416.55" r="2.3" fill="#ff0000" stroke="#400000" stroke-width="0.6"/>
<circle cx="148.20" cy="413.95" r="2.3" fill="#ff0000" stroke="#400000" stroke-width="0.6"/>
<circle cx="155.90" cy="412.65" r="2.3" fill="#ff0000" stroke="#400000" stroke-width="0.6"/>
<circle cx="129.80" cy="419.25" r="2.3" fill="#ff0000" stroke="#400000" stroke-width="0.6"/>
<circle cx="128.30" cy="420.75" r="2.3" fill="#ff0000" stroke="#400000" stroke-width="0.6"/>
<circle cx="128.20" cy="425.55" r="2.3" fill="#ff0000" stroke="#400000" stroke-width="0.6"/>
<circle cx="130.20" cy="425.75" r="2.3" fill="#ff0000" stroke="#400000" stroke-width="0.6"/>
<circle cx="125.30" cy="429.15" r="2.3" fill="#ff0000" stroke="#400000" stroke-width="0.6"/>
<circle cx="145.60" cy="433.35" r="2.3" fill="#ff0000" stroke="#400000" stroke-width="0.6"/>
<circle cx="150.00" cy="445.85" r="2.3" fill="#ff0000" stroke="#400000" stroke-width="0.6"/>
<circle cx="85.90" cy="273.75" r="2.3" fill="#0000ff" stroke="#000060" stroke-width="0.6"/>
<circle cx="58.60" cy="298.55" r="2.3" fill="#0000ff" stroke="#000060" stroke-width="0.6"/>
<circle cx="57.10" cy="307.35" r="2.3" fill="#0000ff" stroke="#000060" stroke-width="0.6"/>
<circle cx="124.20" cy="298.55" r="2.3" fill="#0000ff" stroke="#000060" stroke-width="0.6"/>
<circle cx="144.00" cy="295.85" r="2.3" fill="#0000ff" stroke="#000060" stroke-width="0.6"/>
<circle cx="80.00" cy="317.85" r="2.3" fill="#0000ff" stroke="#000060" stroke-width="0.6"/>
<circle cx="95.30" cy="318.05" r="2.3" fill="#0000ff" stroke="#000060" stroke-width="0.6"/>
<circle cx="127.50" cy="325.55" r="2.3" fill="#0000ff" stroke="#000060" stroke-width="0.6"/>
<circle cx="96.00" cy="332.75" r="2.3" fill="#0000ff" stroke="#000060" stroke-width="0.6"/>
<circle cx="99.30" cy="332.55" r="2.3" fill="#0000ff" stroke="#000060" stroke-width="0.6"/>
<circle cx="109.70" cy="338.05" r="2.3" fill="#0000ff" stroke="#000060" stroke-width="0.6"/>
<circle cx="127.20" cy="344.05" r="2.3" fill="#0000ff" stroke="#000060" stroke-width="0.6"/>
<circle cx="137.50" cy="371.25" r="2.3" fill="#0000ff" stroke="#000060" stroke-width="0.6"/>
<circle cx="99.80" cy="379.35" r="2.3" fill="#0000ff" stroke="#000060" stroke-width="0.6"/>
<circle cx="114.00" cy="391.65" r="2.3" fill="#0000ff" stroke="#000060" stroke-width="0.6"/>
<circle cx="128.40" cy="407.75" r="2.3" fill="#0000ff" stroke="#000060" stroke-width="0.6"/>
<circle cx="464.60" cy="273.65" r="2.3" fill="#00ff00" stroke="#004000" stroke-width="0.6"/>
<circle cx="421.40" cy="312.55" r="2.3" fill="#00ff00" stroke="#004000" stroke-width="0.6"/>
<circle cx="419.20" cy="353.55" r="2.3" fill="#00ff00" stroke="#004000" stroke-width="0.6"/>
<circle cx="432.70" cy="361.55" r="2.3" fill="#00ff00" stroke="#004000" stroke-width="0.6"/>
<circle cx="413.00" cy="372.85" r="2.3" fill="#00ff00" stroke="#004000" stroke-width="0.6"/>
<circle cx="376.70" cy="373.65" r="2.3" fill="#00ff00" stroke="#004000" stroke-width="0.6"/>
<circle cx="390.70" cy="380.55" r="2.3" fill="#00ff00" stroke="#004000" stroke-width="0.6"/>
<circle cx="396.50" cy="380.35" r="2.3" fill="#00ff00" stroke="#004000" stroke-width="0.6"/>
<circle cx="404.60" cy="380.65" r="2.3" fill="#00ff00" stroke="#004000" stroke-width="0.6"/>
<circle cx="416.70" cy="386.85" r="2.3" fill="#00ff00" stroke="#004000" stroke-width="0.6"/>
<circle cx="411.40" cy="397.85" r="2.3" fill="#00ff00" stroke="#004000" stroke-width="0.6"/>
<circle cx="396.50" cy="404.05" r="2.3" fill="#00ff00" stroke="#004000" stroke-width="0.6"/>
<circle cx="364.00" cy="411.85" r="2.3" fill="#00ff00" stroke="#004000" stroke-width="0.6"/>
<circle cx="371.50" cy="413.55" r="2.3" fill="#00ff00" stroke="#004000" stroke-width="0.6"/>
<circle cx="385.50" cy="417.55" r="2.3" fill="#00ff00" stroke="#004000" stroke-width="0.6"/>
<circle cx="365.50" cy="425.75" r="2.3" fill="#00ff00" stroke="#004000" stroke-width="0.6"/>
<circle cx="396.00" cy="431.75" r="2.3" fill="#00ff00" stroke="#004000" stroke-width="0.6"/>
<circle cx="376.00" cy="440.25" r="2.3" fill="#00ff00" stroke="#004000" stroke-width="0.6"/>
<circle cx="392.20" cy="442.55" r="2.3" fill="#00ff00" stroke="#004000" stroke-width="0.6"/>
<circle cx="375.70" cy="445.75" r="2.3" fill="#00ff00" stroke="#004000" stroke-width="0.6"/>
<circle cx="387.50" cy="446.25" r="2.3" fill="#00ff00" stroke="#004000" stroke-width="0.6"/>
<circle cx="348.00" cy="292.35" r="2.3" fill="#ff0000" stroke="#400000" stroke-width="0.6"/>
<circle cx="346.30" cy="315.05" r="2.3" fill="#ff0000" stroke="#400000" stroke-width="0.6"/>
<circle cx="369.30" cy="332.25" r="2.3" fill="#ff0000" stroke="#400000" stroke-width="0.6"/>
<circle cx="370.50" cy="337.95" r="2.3" fill="#ff0000" stroke="#400000" stroke-width="0.6"/>
<circle cx="367.30" cy="341.25" r="2.3" fill="#ff0000" stroke="#400000" stroke-width="0.6"/>
<circle cx="338.00" cy="338.05" r="2.3" fill="#ff0000" stroke="#400000" stroke-width="0.6"/>
<circle cx="354.80" cy="344.95" r="2.3" fill="#ff0000" stroke="#400000" stroke-width="0.6"/>
<circle cx="380.10" cy="344.95" r="2.3" fill="#ff0000" stroke="#400000" stroke-width="0.6"/>
<circle cx="398.60" cy="349.55" r="2.3" fill="#ff0000" stroke="#400000" stroke-width="0.6"/>
<circle cx="403.70" cy="349.55" r="2.3" fill="#ff0000" stroke="#400000" stroke-width="0.6"/>
<circle cx="317.80" cy="355.05" r="2.3" fill="#ff0000" stroke="#400000" stroke-width="0.6"/>
<circle cx="352.80" cy="355.05" r="2.3" fill="#ff0000" stroke="#400000" stroke-width="0.6"/>
<circle cx="370.50" cy="355.05" r="2.3" fill="#ff0000" stroke="#400000" stroke-width="0.6"/>
<circle cx="351.40" cy="362.15" r="2.3" fill="#ff0000" stroke="#400000" stroke-width="0.6"/>
<circle cx="353.30" cy="362.15" r="2.3" fill="#ff0000" stroke="#400000" stroke-width="0.6"/>
<circle cx="372.60" cy="362.15" r="2.3" fill="#ff0000" stroke="#400000" stroke-width="0.6"/>
<circle cx="394.80" cy="362.15" r="2.3" fill="#ff0000" stroke="#400000" stroke-width="0.6"/>
<circle cx="362.80" cy="372.35" r="2.3" fill="#ff0000" stroke="#400000" stroke-width="0.6"/>
<circle cx="373.20" cy="372.35" r="2.3" fill="#ff0000" stroke="#400000" stroke-width="0.6"/>
<circle cx="381.40" cy="372.35" r="2.3" fill="#ff0000" stroke="#400000" stroke-width="0.6"/>
<circle cx="384.50" cy="372.35" r="2.3" fill="#ff0000" stroke="#400000" stroke-width="0.6"/>
<circle cx="411.30" cy="372.35" r="2.3" fill="#ff0000" stroke="#400000" stroke-width="0.6"/>
<circle cx="346.50" cy="389.55" r="2.3" fill="#ff0000" stroke="#400000" stroke-width="0.6"/>
<circle cx="354.80" cy="389.55" r="2.3" fill="#ff0000" stroke="#400000" stroke-width="0.6"/>
<circle cx="365.00" cy="389.55" r="2.3" fill="#ff0000" stroke="#400000" stroke-width="0.6"/>
<circle cx="383.70" cy="389.55" r="2.3" fill="#ff0000" stroke="#400000" stroke-width="0.6"/>
<circle cx="400.90" cy="391.85" r="2.3" fill="#ff0000" stroke="#400000" stroke-width="0.6"/>
<circle cx="369.20" cy="394.85" r="2.3" fill="#ff0000" stroke="#400000" stroke-width="0.6"/>
<circle cx="381.50" cy="402.05" r="2.3" fill="#ff0000" stroke="#400000" stroke-width="0.6"/>
<circle cx="385.00" cy="402.05" r="2.3" fill="#ff0000" stroke="#400000" stroke-width="0.6"/>
<circle cx="405.20" cy="406.55" r="2.3" fill="#ff0000" stroke="#400000" stroke-width="0.6"/>
<circle cx="380.50" cy="412.05" r="2.3" fill="#ff0000" stroke="#400000" stroke-width="0.6"/>
<circle cx="385.00" cy="419.25" r="2.3" fill="#ff0000" stroke="#400000" stroke-width="0.6"/>
<circle cx="414.40" cy="419.25" r="2.3" fill="#ff0000" stroke="#400000" stroke-width="0.6"/>
<circle cx="366.00" cy="429.25" r="2.3" fill="#ff0000" stroke="#400000" stroke-width="0.6"/>
<circle cx="341.00" cy="281.15" r="2.3" fill="#0000ff" stroke="#000060" stroke-width="0.6"/>
<circle cx="314.10" cy="298.35" r="2.3" fill="#0000ff" stroke="#000060" stroke-width="0.6"/>
<circle cx="312.30" cy="304.35" r="2.3" fill="#0000ff" stroke="#000060" stroke-width="0.6"/>
<circle cx="379.70" cy="298.05" r="2.3" fill="#0000ff" stroke="#000060" stroke-width="0.6"/>
<circle cx="399.20" cy="296.35" r="2.3" fill="#0000ff" stroke="#000060" stroke-width="0.6"/>
<circle cx="335.30" cy="311.35" r="2.3" fill="#0000ff" stroke="#000060" stroke-width="0.6"/>
<circle cx="350.50" cy="311.55" r="2.3" fill="#0000ff" stroke="#000060" stroke-width="0.6"/>
<circle cx="383.00" cy="316.85" r="2.3" fill="#0000ff" stroke="#000060" stroke-width="0.6"/>
<circle cx="351.00" cy="321.55" r="2.3" fill="#0000ff" stroke="#000060" stroke-width="0.6"/>
<circle cx="354.80" cy="321.55" r="2.3" fill="#0000ff" stroke="#000060" stroke-width="0.6"/>
<circle cx="365.20" cy="325.35" r="2.3" fill="#0000ff" stroke="#000060" stroke-width="0.6"/>
<circle cx="382.50" cy="329.55" r="2.3" fill="#0000ff" stroke="#000060" stroke-width="0.6"/>
<circle cx="392.80" cy="347.95" r="2.3" fill="#0000ff" stroke="#000060" stroke-width="0.6"/>
<circle cx="354.90" cy="353.45" r="2.3" fill="#0000ff" stroke="#000060" stroke-width="0.6"/>
<circle cx="369.30" cy="362.15" r="2.3" fill="#0000ff" stroke="#000060" stroke-width="0.6"/>
<circle cx="383.50" cy="373.05" r="2.3" fill="#0000ff" stroke="#000060" stroke-width="0.6"/>
<circle cx="569.10" cy="309.05" r="2.3" fill="#00ff00" stroke="#004000" stroke-width="0.6"/>
<circle cx="561.60" cy="322.85" r="2.3" fill="#00ff00" stroke="#004000" stroke-width="0.6"/>
<circle cx="567.80" cy="322.35" r="2.3" fill="#00ff00" stroke="#004000" stroke-width="0.6"/>
<circle cx="647.50" cy="334.75" r="2.3" fill="#00ff00" stroke="#004000" stroke-width="0.6"/>
<circle cx="707.90" cy="299.55" r="2.3" fill="#00ff00" stroke="#004000" stroke-width="0.6"/>
<circle cx="610.80" cy="349.45" r="2.3" fill="#00ff00" stroke="#004000" stroke-width="0.6"/>
<circle cx="622.20" cy="346.75" r="2.3" fill="#00ff00" stroke="#004000" stroke-width="0.6"/>
<circle cx="654.90" cy="362.05" r="2.3" fill="#00ff00" stroke="#004000" stroke-width="0.6"/>
<circle cx="610.00" cy="373.25" r="2.3" fill="#00ff00" stroke="#004000" stroke-width="0.6"/>
<circle cx="610.00" cy="380.55" r="2.3" fill="#00ff00" stroke="#004000" stroke-width="0.6"/>
<circle cx="578.10" cy="387.85" r="2.3" fill="#00ff00" stroke="#004000" stroke-width="0.6"/>
<circle cx="586.30" cy="393.35" r="2.3" fill="#00ff00" stroke="#004000" stroke-width="0.6"/>
<circle cx="616.50" cy="393.35" r="2.3" fill="#00ff00" stroke="#004000" stroke-width="0.6"/>
<circle cx="562.30" cy="398.35" r="2.3" fill="#00ff00" stroke="#004000" stroke-width="0.6"/>
<circle cx="578.10" cy="400.35" r="2.3" fill="#00ff00" stroke="#004000" stroke-width="0.6"/>
<circle cx="591.00" cy="400.35" r="2.3" fill="#00ff00" stroke="#004000" stroke-width="0.6"/>
<circle cx="593.00" cy="401.55" r="2.3" fill="#00ff00" stroke="#004000" stroke-width="0.6"/>
<circle cx="560.30" cy="428.25" r="2.3" fill="#00ff00" stroke="#004000" stroke-width="0.6"/>
<circle cx="569.30" cy="457.75" r="2.3" fill="#00ff00" stroke="#004000" stroke-width="0.6"/>
<circle cx="561.60" cy="276.15" r="2.3" fill="#ff0000" stroke="#400000" stroke-width="0.6"/>
<circle cx="583.30" cy="310.55" r="2.3" fill="#ff0000" stroke="#400000" stroke-width="0.6"/>
<circle cx="588.50" cy="310.35" r="2.3" fill="#ff0000" stroke="#400000" stroke-width="0.6"/>
<circle cx="580.10" cy="327.55" r="2.3" fill="#ff0000" stroke="#400000" stroke-width="0.6"/>
<circle cx="576.80" cy="331.55" r="2.3" fill="#ff0000" stroke="#400000" stroke-width="0.6"/>
<circle cx="577.90" cy="331.75" r="2.3" fill="#ff0000" stroke="#400000" stroke-width="0.6"/>
<circle cx="579.10" cy="338.05" r="2.3" fill="#ff0000" stroke="#400000" stroke-width="0.6"/>
<circle cx="593.50" cy="340.25" r="2.3" fill="#ff0000" stroke="#400000" stroke-width="0.6"/>
<circle cx="582.10" cy="345.55" r="2.3" fill="#ff0000" stroke="#400000" stroke-width="0.6"/>
<circle cx="602.00" cy="345.05" r="2.3" fill="#ff0000" stroke="#400000" stroke-width="0.6"/>
<circle cx="612.80" cy="342.75" r="2.3" fill="#ff0000" stroke="#400000" stroke-width="0.6"/>
<circle cx="616.70" cy="344.05" r="2.3" fill="#ff0000" stroke="#400000" stroke-width="0.6"/>
<circle cx="596.50" cy="351.15" r="2.3" fill="#ff0000" stroke="#400000" stroke-width="0.6"/>
<circle cx="589.30" cy="359.45" r="2.3" fill="#ff0000" stroke="#400000" stroke-width="0.6"/>
<circle cx="625.00" cy="357.25" r="2.3" fill="#ff0000" stroke="#400000" stroke-width="0.6"/>
<circle cx="577.60" cy="364.85" r="2.3" fill="#ff0000" stroke="#400000" stroke-width="0.6"/>
<circle cx="581.10" cy="364.05" r="2.3" fill="#ff0000" stroke="#400000" stroke-width="0.6"/>
<circle cx="582.10" cy="366.05" r="2.3" fill="#ff0000" stroke="#400000" stroke-width="0.6"/>
<circle cx="602.30" cy="366.25" r="2.3" fill="#ff0000" stroke="#400000" stroke-width="0.6"/>
<circle cx="590.50" cy="370.55" r="2.3" fill="#ff0000" stroke="#400000" stroke-width="0.6"/>
<circle cx="616.70" cy="369.75" r="2.3" fill="#ff0000" stroke="#400000" stroke-width="0.6"/>
<circle cx="610.30" cy="367.55" r="2.3" fill="#ff0000" stroke="#400000" stroke-width="0.6"/>
<circle cx="575.10" cy="372.85" r="2.3" fill="#ff0000" stroke="#400000" stroke-width="0.6"/>
<circle cx="593.00" cy="374.25" r="2.3" fill="#ff0000" stroke="#400000" stroke-width="0.6"/>
<circle cx="611.50" cy="376.25" r="2.3" fill="#ff0000" stroke="#400000" stroke-width="0.6"/>
<circle cx="575.10" cy="381.65" r="2.3" fill="#ff0000" stroke="#400000" stroke-width="0.6"/>
<circle cx="622.40" cy="380.25" r="2.3" fill="#ff0000" stroke="#400000" stroke-width="0.6"/>
<circle cx="590.50" cy="344.95" r="2.3" fill="#ff0000" stroke="#400000" stroke-width="0.6"/>
<circle cx="570.60" cy="383.35" r="2.3" fill="#ff0000" stroke="#400000" stroke-width="0.6"/>
<circle cx="556.60" cy="401.05" r="2.3" fill="#ff0000" stroke="#400000" stroke-width="0.6"/>
<circle cx="563.30" cy="400.35" r="2.3" fill="#ff0000" stroke="#400000" stroke-width="0.6"/>
<circle cx="556.60" cy="412.05" r="2.3" fill="#ff0000" stroke="#400000" stroke-width="0.6"/>
<circle cx="572.10" cy="417.05" r="2.3" fill="#ff0000" stroke="#400000" stroke-width="0.6"/>
<circle cx="568.80" cy="417.75" r="2.3" fill="#ff0000" stroke="#400000" stroke-width="0.6"/>
<circle cx="561.30" cy="427.55" r="2.3" fill="#ff0000" stroke="#400000" stroke-width="0.6"/>
<circle cx="601.50" cy="391.55" r="2.3" fill="#ff0000" stroke="#400000" stroke-width="0.6"/>
<circle cx="588.30" cy="344.25" r="2.3" fill="#0000ff" stroke="#000060" stroke-width="0.6"/>
<circle cx="608.80" cy="341.55" r="2.3" fill="#0000ff" stroke="#000060" stroke-width="0.6"/>
<circle cx="633.00" cy="342.55" r="2.3" fill="#0000ff" stroke="#000060" stroke-width="0.6"/>
<circle cx="627.50" cy="361.05" r="2.3" fill="#0000ff" stroke="#000060" stroke-width="0.6"/>
<circle cx="691.60" cy="356.25" r="2.3" fill="#0000ff" stroke="#000060" stroke-width="0.6"/>
<circle cx="564.10" cy="365.75" r="2.3" fill="#0000ff" stroke="#000060" stroke-width="0.6"/>
<circle cx="663.20" cy="380.75" r="2.3" fill="#0000ff" stroke="#000060" stroke-width="0.6"/>
<circle cx="599.00" cy="389.55" r="2.3" fill="#0000ff" stroke="#000060" stroke-width="0.6"/>
<circle cx="603.00" cy="390.35" r="2.3" fill="#0000ff" stroke="#000060" stroke-width="0.6"/>
<circle cx="628.50" cy="392.85" r="2.3" fill="#0000ff" stroke="#000060" stroke-width="0.6"/>
<circle cx="597.00" cy="402.55" r="2.3" fill="#0000ff" stroke="#000060" stroke-width="0.6"/>
<circle cx="587.80" cy="410.35" r="2.3" fill="#0000ff" stroke="#000060" stroke-width="0.6"/>
<circle cx="569.60" cy="416.85" r="2.3" fill="#0000ff" stroke="#000060" stroke-width="0.6"/>
<circle cx="572.80" cy="420.75" r="2.3" fill="#0000ff" stroke="#000060" stroke-width="0.6"/>
<circle cx="580.10" cy="421.25" r="2.3" fill="#0000ff" stroke="#000060" stroke-width="0.6"/>
<circle cx="647.20" cy="429.75" r="2.3" fill="#0000ff" stroke="#000060" stroke-width="0.6"/>
<g transform="matrix(1 0 0 1.0260 0 -5.632)"><text x="54.99 58.32" y="216.60" font-size="12.0">.0</text><path class="g1" d="M515 0V1237L197 1010V1180L530 1409H696V0Z" transform="matrix(0.005859 0 0 -0.005859 48.32 216.60)"/></g>
<g transform="matrix(1 0 0 1.0260 0 -5.632)"><text x="83.56 86.89" y="216.60" font-size="12.0">.5</text><path class="g1" d="M515 0V1237L197 1010V1180L530 1409H696V0Z" transform="matrix(0.005859 0 0 -0.005859 76.88 216.60)"/></g>
<g transform="matrix(1 0 0 1.0260 0 -5.632)"><text x="105.69 112.37 115.70" y="216.60" font-size="12.0">2.0</text></g>
<g transform="matrix(1 0 0 1.0260 0 -5.632)"><text x="134.26 140.93 144.27" y="216.60" font-size="12.0">2.5</text></g>
<g transform="matrix(1 0 0 1.0260 0 -5.632)"><text x="162.87 169.54 172.87" y="216.60" font-size="12.0">3.0</text></g>
<g transform="matrix(1 0 0 1.0260 0 -5.632)"><text x="191.43 198.11 201.44" y="216.60" font-size="12.0">3.5</text></g>
<g transform="matrix(1 0 0 1.0260 0 -5.097)"><text x="26.76 30.09" y="196.05" font-size="12.0">.0</text><path class="g1" d="M515 0V1237L197 1010V1180L530 1409H696V0Z" transform="matrix(0.005859 0 0 -0.005859 20.09 196.05)"/></g>
<g transform="matrix(1 0 0 1.0260 0 -3.863)"><text x="26.80 30.13" y="148.59" font-size="12.0">.5</text><path class="g1" d="M515 0V1237L197 1010V1180L530 1409H696V0Z" transform="matrix(0.005859 0 0 -0.005859 20.12 148.59)"/></g>
<g transform="matrix(1 0 0 1.0260 0 -2.629)"><text x="20.09 26.76 30.09" y="101.12" font-size="12.0">2.0</text></g>
<g transform="matrix(1 0 0 1.0260 0 -1.395)"><text x="20.12 26.80 30.13" y="53.65" font-size="12.0">2.5</text></g>
<g transform="matrix(1 0 0 1.0260 0 -0.231)"><text x="20.09 26.76 30.09" y="8.90" font-size="12.0">3.0</text></g>
<g transform="matrix(1 0 0 1.0260 0 -5.632)"><text x="310.29 313.62" y="216.60" font-size="12.0">.0</text><path class="g1" d="M515 0V1237L197 1010V1180L530 1409H696V0Z" transform="matrix(0.005859 0 0 -0.005859 303.62 216.60)"/></g>
<g transform="matrix(1 0 0 1.0260 0 -5.632)"><text x="338.86 342.19" y="216.60" font-size="12.0">.5</text><path class="g1" d="M515 0V1237L197 1010V1180L530 1409H696V0Z" transform="matrix(0.005859 0 0 -0.005859 332.18 216.60)"/></g>
<g transform="matrix(1 0 0 1.0260 0 -5.632)"><text x="360.99 367.67 371.00" y="216.60" font-size="12.0">2.0</text></g>
<g transform="matrix(1 0 0 1.0260 0 -5.632)"><text x="389.56 396.23 399.57" y="216.60" font-size="12.0">2.5</text></g>
<g transform="matrix(1 0 0 1.0260 0 -5.632)"><text x="418.17 424.84 428.17" y="216.60" font-size="12.0">3.0</text></g>
<g transform="matrix(1 0 0 1.0260 0 -5.632)"><text x="446.73 453.41 456.74" y="216.60" font-size="12.0">3.5</text></g>
<g transform="matrix(1 0 0 1.0260 0 -4.962)"><text x="282.26 285.59" y="190.85" font-size="12.0">.0</text><path class="g1" d="M515 0V1237L197 1010V1180L530 1409H696V0Z" transform="matrix(0.005859 0 0 -0.005859 275.59 190.85)"/></g>
<g transform="matrix(1 0 0 1.0260 0 -4.221)"><text x="282.30 285.63" y="162.36" font-size="12.0">.5</text><path class="g1" d="M515 0V1237L197 1010V1180L530 1409H696V0Z" transform="matrix(0.005859 0 0 -0.005859 275.62 162.36)"/></g>
<g transform="matrix(1 0 0 1.0260 0 -3.481)"><text x="275.59 282.26 285.59" y="133.88" font-size="12.0">2.0</text></g>
<g transform="matrix(1 0 0 1.0260 0 -2.740)"><text x="275.62 282.30 285.63" y="105.39" font-size="12.0">2.5</text></g>
<g transform="matrix(1 0 0 1.0260 0 -2.000)"><text x="275.59 282.26 285.59" y="76.91" font-size="12.0">3.0</text></g>
<g transform="matrix(1 0 0 1.0260 0 -1.259)"><text x="275.62 282.30 285.63" y="48.42" font-size="12.0">3.5</text></g>
<g transform="matrix(1 0 0 1.0260 0 -0.518)"><text x="275.59 282.26 285.59" y="19.94" font-size="12.0">4.0</text></g>
<g transform="matrix(1 0 0 1.0260 0 -5.632)"><text x="565.69 569.02" y="216.60" font-size="12.0">.0</text><path class="g1" d="M515 0V1237L197 1010V1180L530 1409H696V0Z" transform="matrix(0.005859 0 0 -0.005859 559.02 216.60)"/></g>
<g transform="matrix(1 0 0 1.0260 0 -5.632)"><text x="594.26 597.59" y="216.60" font-size="12.0">.5</text><path class="g1" d="M515 0V1237L197 1010V1180L530 1409H696V0Z" transform="matrix(0.005859 0 0 -0.005859 587.58 216.60)"/></g>
<g transform="matrix(1 0 0 1.0260 0 -5.632)"><text x="616.39 623.07 626.40" y="216.60" font-size="12.0">2.0</text></g>
<g transform="matrix(1 0 0 1.0260 0 -5.632)"><text x="644.96 651.63 654.97" y="216.60" font-size="12.0">2.5</text></g>
<g transform="matrix(1 0 0 1.0260 0 -5.632)"><text x="673.57 680.24 683.57" y="216.60" font-size="12.0">3.0</text></g>
<g transform="matrix(1 0 0 1.0260 0 -5.632)"><text x="702.13 708.81 712.14" y="216.60" font-size="12.0">3.5</text></g>
<g transform="matrix(1 0 0 1.0260 0 -4.775)"><text x="526.89 537.56 540.89" y="183.65" font-size="12.0">-.0</text><path class="g1" d="M515 0V1237L197 1010V1180L530 1409H696V0Z" transform="matrix(0.005859 0 0 -0.005859 530.89 183.65)"/></g>
<g transform="matrix(1 0 0 1.0260 0 -3.619)"><text x="526.93 530.92 537.60 540.93" y="139.20" font-size="12.0">-0.5</text></g>
<g transform="matrix(1 0 0 1.0260 0 -2.464)"><text x="530.89 537.56 540.89" y="94.75" font-size="12.0">0.0</text></g>
<g transform="matrix(1 0 0 1.0260 0 -1.308)"><text x="530.92 537.60 540.93" y="50.30" font-size="12.0">0.5</text></g>
<g transform="matrix(1 0 0 1.0260 0 -0.231)"><text x="537.56 540.89" y="8.90" font-size="12.0">.0</text><path class="g1" d="M515 0V1237L197 1010V1180L530 1409H696V0Z" transform="matrix(0.005859 0 0 -0.005859 530.89 8.90)"/></g>
<g transform="matrix(1 0 0 1.0260 0 -12.368)"><text x="51.83 62.50 65.83" y="475.70" font-size="12.0">-.0</text><path class="g1" d="M515 0V1237L197 1010V1180L530 1409H696V0Z" transform="matrix(0.005859 0 0 -0.005859 55.83 475.70)"/></g>
<g transform="matrix(1 0 0 1.0260 0 -12.368)"><text x="96.50 100.49 107.17 110.50" y="475.70" font-size="12.0">-0.5</text></g>
<g transform="matrix(1 0 0 1.0260 0 -12.368)"><text x="143.16 149.83 153.17" y="475.70" font-size="12.0">0.0</text></g>
<g transform="matrix(1 0 0 1.0260 0 -12.368)"><text x="187.83 194.50 197.83" y="475.70" font-size="12.0">0.5</text></g>
<g transform="matrix(1 0 0 1.0260 0 -11.870)"><text x="26.76 30.09" y="456.55" font-size="12.0">.0</text><path class="g1" d="M515 0V1237L197 1010V1180L530 1409H696V0Z" transform="matrix(0.005859 0 0 -0.005859 20.09 456.55)"/></g>
<g transform="matrix(1 0 0 1.0260 0 -10.786)"><text x="26.80 30.13" y="414.85" font-size="12.0">.5</text><path class="g1" d="M515 0V1237L197 1010V1180L530 1409H696V0Z" transform="matrix(0.005859 0 0 -0.005859 20.12 414.85)"/></g>
<g transform="matrix(1 0 0 1.0260 0 -9.702)"><text x="20.09 26.76 30.09" y="373.15" font-size="12.0">2.0</text></g>
<g transform="matrix(1 0 0 1.0260 0 -8.618)"><text x="20.12 26.80 30.13" y="331.45" font-size="12.0">2.5</text></g>
<g transform="matrix(1 0 0 1.0260 0 -7.534)"><text x="20.09 26.76 30.09" y="289.75" font-size="12.0">3.0</text></g>
<g transform="matrix(1 0 0 1.0260 0 -12.368)"><text x="307.03 317.70 321.03" y="475.70" font-size="12.0">-.0</text><path class="g1" d="M515 0V1237L197 1010V1180L530 1409H696V0Z" transform="matrix(0.005859 0 0 -0.005859 311.02 475.70)"/></g>
<g transform="matrix(1 0 0 1.0260 0 -12.368)"><text x="351.70 355.69 362.37 365.70" y="475.70" font-size="12.0">-0.5</text></g>
<g transform="matrix(1 0 0 1.0260 0 -12.368)"><text x="398.36 405.03 408.37" y="475.70" font-size="12.0">0.0</text></g>
<g transform="matrix(1 0 0 1.0260 0 -12.368)"><text x="443.03 449.70 453.03" y="475.70" font-size="12.0">0.5</text></g>
<g transform="matrix(1 0 0 1.0260 0 -11.707)"><text x="282.26 285.59" y="450.25" font-size="12.0">.0</text><path class="g1" d="M515 0V1237L197 1010V1180L530 1409H696V0Z" transform="matrix(0.005859 0 0 -0.005859 275.59 450.25)"/></g>
<g transform="matrix(1 0 0 1.0260 0 -10.966)"><text x="282.30 285.63" y="421.76" font-size="12.0">.5</text><path class="g1" d="M515 0V1237L197 1010V1180L530 1409H696V0Z" transform="matrix(0.005859 0 0 -0.005859 275.62 421.76)"/></g>
<g transform="matrix(1 0 0 1.0260 0 -10.225)"><text x="275.59 282.26 285.59" y="393.28" font-size="12.0">2.0</text></g>
<g transform="matrix(1 0 0 1.0260 0 -9.485)"><text x="275.62 282.30 285.63" y="364.80" font-size="12.0">2.5</text></g>
<g transform="matrix(1 0 0 1.0260 0 -8.744)"><text x="275.59 282.26 285.59" y="336.31" font-size="12.0">3.0</text></g>
<g transform="matrix(1 0 0 1.0260 0 -8.003)"><text x="275.62 282.30 285.63" y="307.82" font-size="12.0">3.5</text></g>
<g transform="matrix(1 0 0 1.0260 0 -7.263)"><text x="275.59 282.26 285.59" y="279.34" font-size="12.0">4.0</text></g>
<g transform="matrix(1 0 0 1.0260 0 -12.368)"><text x="554.29 557.62" y="475.70" font-size="12.0">.0</text><path class="g1" d="M515 0V1237L197 1010V1180L530 1409H696V0Z" transform="matrix(0.005859 0 0 -0.005859 547.62 475.70)"/></g>
<g transform="matrix(1 0 0 1.0260 0 -12.368)"><text x="585.03 588.37" y="475.70" font-size="12.0">.5</text><path class="g1" d="M515 0V1237L197 1010V1180L530 1409H696V0Z" transform="matrix(0.005859 0 0 -0.005859 578.36 475.70)"/></g>
<g transform="matrix(1 0 0 1.0260 0 -12.368)"><text x="609.34 616.02 619.35" y="475.70" font-size="12.0">2.0</text></g>
<g transform="matrix(1 0 0 1.0260 0 -12.368)"><text x="640.08 646.76 650.09" y="475.70" font-size="12.0">2.5</text></g>
<g transform="matrix(1 0 0 1.0260 0 -12.368)"><text x="670.87 677.54 680.87" y="475.70" font-size="12.0">3.0</text></g>
<g transform="matrix(1 0 0 1.0260 0 -12.368)"><text x="701.61 708.28 711.62" y="475.70" font-size="12.0">3.5</text></g>
<g transform="matrix(1 0 0 1.0260 0 -11.395)"><text x="530.89 537.56 540.89" y="438.25" font-size="12.0">0.0</text></g>
<g transform="matrix(1 0 0 1.0260 0 -10.009)"><text x="531.02 537.70 541.03" y="384.95" font-size="12.0">0.2</text></g>
<g transform="matrix(1 0 0 1.0260 0 -8.623)"><text x="530.77 537.44 540.78" y="331.65" font-size="12.0">0.4</text></g>
<g transform="matrix(1 0 0 1.0260 0 -7.237)"><text x="530.95 537.62 540.95" y="278.35" font-size="12.0">0.6</text></g>
<text transform="translate(10.70,172.01) rotate(-90)" x="0" y="0" font-size="12.0" textLength="140.86" lengthAdjust="spacing">log[Average Density (pc<tspan font-size="7.4" dy="-5.1">-2</tspan><tspan dy="5.1">)]</tspan></text>
<text transform="translate(266.10,163.11) rotate(-90)" x="0" y="0" font-size="12.0" textLength="123.76" lengthAdjust="spacing">log[Peak Density (pc<tspan font-size="7.4" dy="-5.1">-2</tspan><tspan dy="5.1">)]</tspan></text>
<text transform="translate(517.80,143.41) rotate(-90)" x="0" y="0" font-size="12.0" textLength="83.75" lengthAdjust="spacing">log(Radius [pc])</text>
<text transform="translate(10.70,431.11) rotate(-90)" x="0" y="0" font-size="12.0" textLength="140.86" lengthAdjust="spacing">log[Average Density (pc<tspan font-size="7.4" dy="-5.1">-2</tspan><tspan dy="5.1">)]</tspan></text>
<text transform="translate(266.10,422.21) rotate(-90)" x="0" y="0" font-size="12.0" textLength="123.76" lengthAdjust="spacing">log[Peak Density (pc<tspan font-size="7.4" dy="-5.1">-2</tspan><tspan dy="5.1">)]</tspan></text>
<text transform="translate(521.60,403.81) rotate(-90)" x="0" y="0" font-size="12.0" textLength="85.35" lengthAdjust="spacing">log(aspect ratio)</text>
<text x="95.29 97.91 104.53 111.15 114.44 121.06 127.68 137.63 144.25 150.88 154.82" y="228.70" font-size="12.0">log[number]</text>
<text x="350.79 353.41 360.03 366.65 369.94 376.56 383.18 393.13 399.75 406.38 410.32" y="228.70" font-size="12.0">log[number]</text>
<text x="606.19 608.81 615.43 622.05 625.34 631.96 638.58 648.53 655.15 661.78 665.72" y="228.70" font-size="12.0">log[number]</text>
<text x="97.09 99.73 106.38 113.02 116.33 124.97 131.62 138.26 140.90 147.55 153.52" y="488.00" font-size="12.0">log[Radius]</text>
<text x="352.59 355.23 361.88 368.52 371.83 380.47 387.12 393.76 396.40 403.05 409.02" y="488.00" font-size="12.0">log[Radius]</text>
<text x="606.19 608.81 615.43 622.05 625.34 631.96 638.58 648.53 655.15 661.78 665.72" y="488.00" font-size="12.0">log[number]</text>
<g transform="matrix(1 0 0 1.1100 0 -21.142)"><text x="107.87 112.67 120.99 128.92 132.95 140.88 148.80 156.87 164.79 173.11 181.04 185.07 193.00 200.92" y="192.20" font-size="14.0">r=0.32,p=0.004</text></g>
<g transform="matrix(1 0 0 1.1100 0 -21.241)"><text x="345.97 350.80 359.14 367.09 371.15 379.10 387.05 395.16 403.11 423.46 427.52 435.47 443.42 448.25 456.20" y="193.10" font-size="14.0">r=0.46,p=.8e-05</text><path class="g1" d="M515 0V1237L197 1010V1180L530 1409H696V0Z" transform="matrix(0.006836 0 0 -0.006836 415.51 193.10)"/></g>
<g transform="matrix(1 0 0 1.1100 0 -21.241)"><text x="601.57 606.38 614.70 622.64 626.68 634.61 642.55 650.62 658.55 670.92 678.85 690.82 698.76 703.57 711.50" y="193.10" font-size="14.0">r=0.45,p=3.e-05</text><path class="g1" d="M515 0V1237L197 1010V1180L530 1409H696V0Z" transform="matrix(0.006836 0 0 -0.006836 682.89 193.10)"/></g>
<g transform="matrix(1 0 0 1.1100 0 -31.009)"><text x="88.87 93.68 102.01 106.83 114.76 118.80 126.74 134.68 142.76 150.70 171.01 182.99 190.93 195.74 203.68" y="281.90" font-size="14.0">r=-0.62,p=.e-09</text><path class="g1" d="M515 0V1237L197 1010V1180L530 1409H696V0Z" transform="matrix(0.006836 0 0 -0.006836 163.07 281.90)"/><path class="g1" d="M515 0V1237L197 1010V1180L530 1409H696V0Z" transform="matrix(0.006836 0 0 -0.006836 175.05 281.90)"/></g>
<g transform="matrix(1 0 0 1.1100 0 -30.932)"><text x="353.07 357.89 366.22 371.03 378.98 383.02 390.96 398.90 406.99 414.93 423.26 431.20 435.25 443.19 451.13" y="281.20" font-size="14.0">r=-0.34,p=0.003</text></g>
<g transform="matrix(1 0 0 1.1100 0 -30.789)"><text x="605.07 609.90 618.25 626.21 630.27 638.23 646.19 654.32 662.27 670.62 678.58 682.64 698.56" y="279.90" font-size="14.0">r=0.29,p=0.00</text><path class="g1" d="M515 0V1237L197 1010V1180L530 1409H696V0Z" transform="matrix(0.006836 0 0 -0.006836 690.60 279.90)"/></g>
</svg></body></html>
